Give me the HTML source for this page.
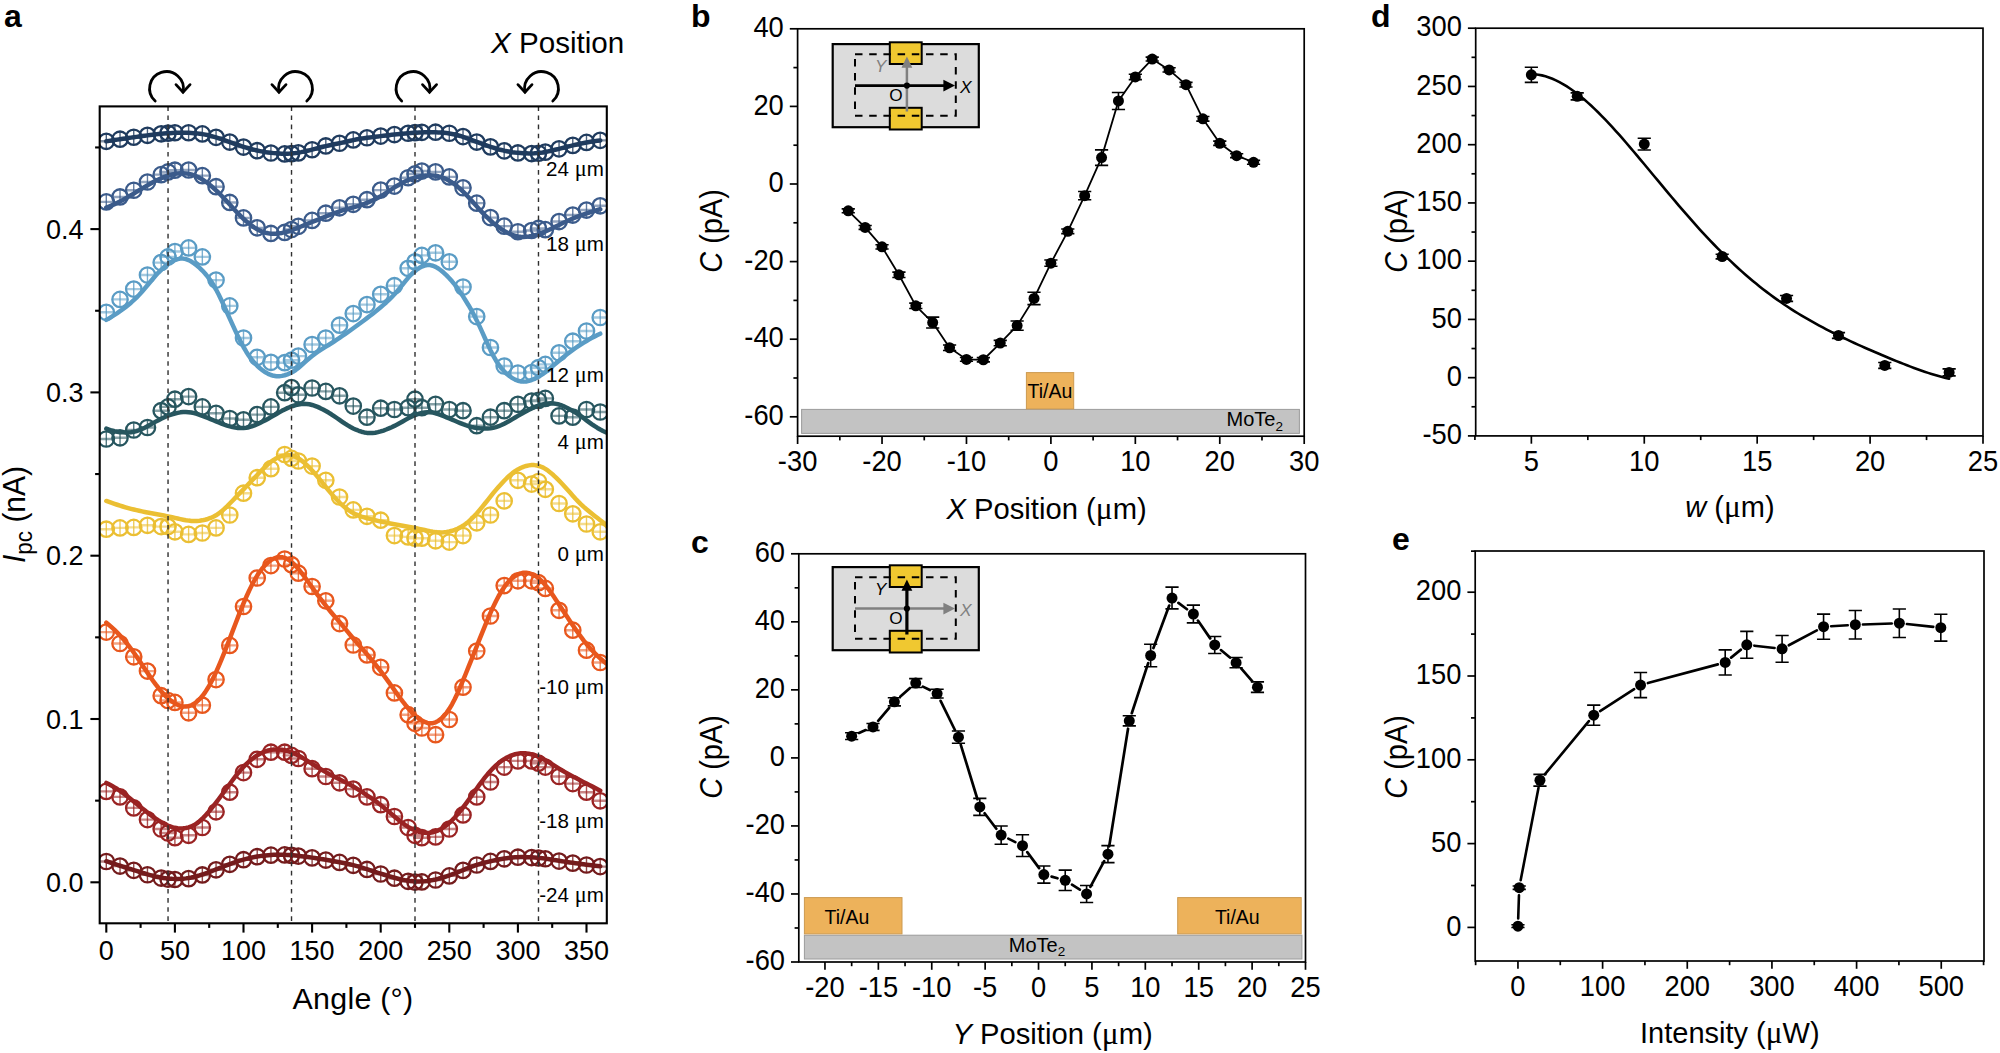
<!DOCTYPE html>
<html lang="en">
<head>
<meta charset="utf-8">
<title>Figure</title>
<style>html,body{margin:0;padding:0;background:#fff;}body{width:2000px;height:1053px;overflow:hidden;}</style>
</head>
<body>
<svg width="2000" height="1053" viewBox="0 0 2000 1053" font-family='"Liberation Sans", sans-serif' style="display:block">
<rect width="2000" height="1053" fill="#fff"/>
<text x="4" y="27" font-size="32" font-weight="bold">a</text>
<clipPath id="ca"><rect x="99.7" y="106.4" width="507.1" height="816.9"/></clipPath>
<g clip-path="url(#ca)">
<g stroke="#741b1c" fill="none">
<path d="M106.3 853.8v15.4M120.02 858.37v15.4M133.74 862.65v15.4M147.46 867.05v15.4M161.18 870.33v15.4M168.04 871.39v15.4M174.9 871.79v15.4M188.62 870.92v15.4M202.34 867.25v15.4M216.06 862.12v15.4M229.78 856.6v15.4M243.5 852.01v15.4M257.22 849.02v15.4M270.94 847.47v15.4M284.66 847.21v15.4M291.52 847.67v15.4M298.38 848.4v15.4M312.1 850.18v15.4M325.82 852.36v15.4M339.54 854.72v15.4M353.26 857.6v15.4M366.98 861.77v15.4M380.7 866.3v15.4M394.42 870.49v15.4M408.14 873.6v15.4M415 874.37v15.4M421.86 874.19v15.4M435.58 872.3v15.4M449.3 868.2v15.4M463.02 862.68v15.4M476.74 857.3v15.4M490.46 853.72v15.4M504.18 851.1v15.4M517.9 849.5v15.4M531.62 849.9v15.4M538.48 850.3v15.4M545.34 851.07v15.4M559.06 853.4v15.4M572.78 855.42v15.4M586.5 857.3v15.4M600.22 858.9v15.4" stroke-width="1.4" opacity=".8"/>
<path d="M98.6 861.5h15.4M112.32 866.07h15.4M126.04 870.35h15.4M139.76 874.75h15.4M153.48 878.03h15.4M160.34 879.09h15.4M167.2 879.49h15.4M180.92 878.62h15.4M194.64 874.95h15.4M208.36 869.82h15.4M222.08 864.3h15.4M235.8 859.71h15.4M249.52 856.72h15.4M263.24 855.17h15.4M276.96 854.91h15.4M283.82 855.37h15.4M290.68 856.1h15.4M304.4 857.88h15.4M318.12 860.06h15.4M331.84 862.42h15.4M345.56 865.3h15.4M359.28 869.47h15.4M373 874h15.4M386.72 878.19h15.4M400.44 881.3h15.4M407.3 882.07h15.4M414.16 881.89h15.4M427.88 880h15.4M441.6 875.9h15.4M455.32 870.38h15.4M469.04 865h15.4M482.76 861.42h15.4M496.48 858.8h15.4M510.2 857.2h15.4M523.92 857.6h15.4M530.78 858h15.4M537.64 858.77h15.4M551.36 861.1h15.4M565.08 863.12h15.4M578.8 865h15.4M592.52 866.6h15.4" stroke-width="2.4" opacity=".55"/>
<g stroke-width="2.3"><circle cx="106.3" cy="861.5" r="7.7"/><circle cx="120.02" cy="866.07" r="7.7"/><circle cx="133.74" cy="870.35" r="7.7"/><circle cx="147.46" cy="874.75" r="7.7"/><circle cx="161.18" cy="878.03" r="7.7"/><circle cx="168.04" cy="879.09" r="7.7"/><circle cx="174.9" cy="879.49" r="7.7"/><circle cx="188.62" cy="878.62" r="7.7"/><circle cx="202.34" cy="874.95" r="7.7"/><circle cx="216.06" cy="869.82" r="7.7"/><circle cx="229.78" cy="864.3" r="7.7"/><circle cx="243.5" cy="859.71" r="7.7"/><circle cx="257.22" cy="856.72" r="7.7"/><circle cx="270.94" cy="855.17" r="7.7"/><circle cx="284.66" cy="854.91" r="7.7"/><circle cx="291.52" cy="855.37" r="7.7"/><circle cx="298.38" cy="856.1" r="7.7"/><circle cx="312.1" cy="857.88" r="7.7"/><circle cx="325.82" cy="860.06" r="7.7"/><circle cx="339.54" cy="862.42" r="7.7"/><circle cx="353.26" cy="865.3" r="7.7"/><circle cx="366.98" cy="869.47" r="7.7"/><circle cx="380.7" cy="874" r="7.7"/><circle cx="394.42" cy="878.19" r="7.7"/><circle cx="408.14" cy="881.3" r="7.7"/><circle cx="415" cy="882.07" r="7.7"/><circle cx="421.86" cy="881.89" r="7.7"/><circle cx="435.58" cy="880" r="7.7"/><circle cx="449.3" cy="875.9" r="7.7"/><circle cx="463.02" cy="870.38" r="7.7"/><circle cx="476.74" cy="865" r="7.7"/><circle cx="490.46" cy="861.42" r="7.7"/><circle cx="504.18" cy="858.8" r="7.7"/><circle cx="517.9" cy="857.2" r="7.7"/><circle cx="531.62" cy="857.6" r="7.7"/><circle cx="538.48" cy="858" r="7.7"/><circle cx="545.34" cy="858.77" r="7.7"/><circle cx="559.06" cy="861.1" r="7.7"/><circle cx="572.78" cy="863.12" r="7.7"/><circle cx="586.5" cy="865" r="7.7"/><circle cx="600.22" cy="866.6" r="7.7"/></g>
</g>
<polyline points="106.3,861.19 109.04,862.12 111.79,863.03 114.53,863.95 117.28,864.85 120.02,865.74 122.76,866.62 125.51,867.49 128.25,868.35 131,869.22 133.74,870.08 136.48,870.94 139.23,871.81 141.97,872.67 144.72,873.52 147.46,874.33 150.2,875.11 152.95,875.83 155.69,876.49 158.44,877.07 161.18,877.59 163.92,878.03 166.67,878.39 169.41,878.67 172.16,878.85 174.9,878.93 177.64,878.92 180.39,878.82 183.13,878.64 185.88,878.37 188.62,878 191.36,877.53 194.11,876.94 196.85,876.22 199.6,875.41 202.34,874.51 205.08,873.54 207.83,872.54 210.57,871.52 213.32,870.5 216.06,869.46 218.8,868.41 221.55,867.34 224.29,866.25 227.04,865.17 229.78,864.09 232.52,863.05 235.27,862.07 238.01,861.16 240.76,860.32 243.5,859.56 246.24,858.86 248.99,858.22 251.73,857.62 254.48,857.06 257.22,856.56 259.96,856.12 262.71,855.73 265.45,855.42 268.2,855.18 270.94,854.99 273.68,854.86 276.43,854.78 279.17,854.73 281.92,854.74 284.66,854.8 287.4,854.91 290.15,855.08 292.89,855.3 295.64,855.56 298.38,855.84 301.12,856.16 303.87,856.49 306.61,856.85 309.36,857.22 312.1,857.62 314.84,858.03 317.59,858.45 320.33,858.88 323.08,859.32 325.82,859.77 328.56,860.23 331.31,860.69 334.05,861.17 336.8,861.66 339.54,862.17 342.28,862.7 345.03,863.26 347.77,863.85 350.52,864.47 353.26,865.14 356,865.86 358.75,866.63 361.49,867.46 364.24,868.32 366.98,869.21 369.72,870.12 372.47,871.02 375.21,871.92 377.96,872.8 380.7,873.67 383.44,874.52 386.19,875.36 388.93,876.19 391.68,877 394.42,877.78 397.16,878.52 399.91,879.2 402.65,879.81 405.4,880.34 408.14,880.78 410.88,881.11 413.63,881.34 416.37,881.46 419.12,881.47 421.86,881.37 424.6,881.18 427.35,880.89 430.09,880.5 432.84,880.02 435.58,879.45 438.32,878.78 441.07,878.04 443.81,877.24 446.56,876.37 449.3,875.46 452.04,874.48 454.79,873.45 457.53,872.36 460.28,871.24 463.02,870.09 465.76,868.95 468.51,867.85 471.25,866.79 474,865.81 476.74,864.9 479.48,864.06 482.23,863.28 484.97,862.55 487.72,861.86 490.46,861.22 493.2,860.61 495.95,860.04 498.69,859.51 501.44,859.02 504.18,858.57 506.92,858.16 509.67,857.8 512.41,857.5 515.16,857.28 517.9,857.14 520.64,857.08 523.39,857.08 526.13,857.14 528.88,857.23 531.62,857.36 534.36,857.52 537.11,857.72 539.85,857.97 542.6,858.26 545.34,858.61 548.08,859 550.83,859.43 553.57,859.87 556.32,860.32 559.06,860.75 561.8,861.18 564.55,861.6 567.29,862.01 570.04,862.41 572.78,862.8 575.52,863.19 578.27,863.58 581.01,863.95 583.76,864.32 586.5,864.67 589.24,865.01 591.99,865.34 594.73,865.66 597.48,865.98 600.22,866.29" fill="none" stroke="#741b1c" stroke-width="4.5" stroke-linejoin="round" stroke-linecap="round"/>
<g stroke="#9a2323" fill="none">
<path d="M106.3 783.7v15.4M120.02 789.2v15.4M133.74 800.2v15.4M147.46 811.9v15.4M161.18 821.3v15.4M168.04 825.3v15.4M174.9 830v15.4M188.62 827.6v15.4M202.34 819.8v15.4M216.06 804.1v15.4M229.78 784.5v15.4M243.5 764.9v15.4M257.22 751.6v15.4M270.94 744.5v15.4M284.66 744.5v15.4M291.52 747.7v15.4M298.38 750.8v15.4M312.1 761v15.4M325.82 768.8v15.4M339.54 775.1v15.4M353.26 781.4v15.4M366.98 789.2v15.4M380.7 797v15.4M394.42 808.8v15.4M408.14 819.8v15.4M415 827.6v15.4M421.86 830v15.4M435.58 829.2v15.4M449.3 821.3v15.4M463.02 807.2v15.4M476.74 789.2v15.4M490.46 774.3v15.4M504.18 759.4v15.4M517.9 753.2v15.4M531.62 753.2v15.4M538.48 755.5v15.4M545.34 759.4v15.4M559.06 768.8v15.4M572.78 775.9v15.4M586.5 784.5v15.4M600.22 793.1v15.4" stroke-width="1.4" opacity=".8"/>
<path d="M98.6 791.4h15.4M112.32 796.9h15.4M126.04 807.9h15.4M139.76 819.6h15.4M153.48 829h15.4M160.34 833h15.4M167.2 837.7h15.4M180.92 835.3h15.4M194.64 827.5h15.4M208.36 811.8h15.4M222.08 792.2h15.4M235.8 772.6h15.4M249.52 759.3h15.4M263.24 752.2h15.4M276.96 752.2h15.4M283.82 755.4h15.4M290.68 758.5h15.4M304.4 768.7h15.4M318.12 776.5h15.4M331.84 782.8h15.4M345.56 789.1h15.4M359.28 796.9h15.4M373 804.7h15.4M386.72 816.5h15.4M400.44 827.5h15.4M407.3 835.3h15.4M414.16 837.7h15.4M427.88 836.9h15.4M441.6 829h15.4M455.32 814.9h15.4M469.04 796.9h15.4M482.76 782h15.4M496.48 767.1h15.4M510.2 760.9h15.4M523.92 760.9h15.4M530.78 763.2h15.4M537.64 767.1h15.4M551.36 776.5h15.4M565.08 783.6h15.4M578.8 792.2h15.4M592.52 800.8h15.4" stroke-width="2.4" opacity=".55"/>
<g stroke-width="2.3"><circle cx="106.3" cy="791.4" r="7.7"/><circle cx="120.02" cy="796.9" r="7.7"/><circle cx="133.74" cy="807.9" r="7.7"/><circle cx="147.46" cy="819.6" r="7.7"/><circle cx="161.18" cy="829" r="7.7"/><circle cx="168.04" cy="833" r="7.7"/><circle cx="174.9" cy="837.7" r="7.7"/><circle cx="188.62" cy="835.3" r="7.7"/><circle cx="202.34" cy="827.5" r="7.7"/><circle cx="216.06" cy="811.8" r="7.7"/><circle cx="229.78" cy="792.2" r="7.7"/><circle cx="243.5" cy="772.6" r="7.7"/><circle cx="257.22" cy="759.3" r="7.7"/><circle cx="270.94" cy="752.2" r="7.7"/><circle cx="284.66" cy="752.2" r="7.7"/><circle cx="291.52" cy="755.4" r="7.7"/><circle cx="298.38" cy="758.5" r="7.7"/><circle cx="312.1" cy="768.7" r="7.7"/><circle cx="325.82" cy="776.5" r="7.7"/><circle cx="339.54" cy="782.8" r="7.7"/><circle cx="353.26" cy="789.1" r="7.7"/><circle cx="366.98" cy="796.9" r="7.7"/><circle cx="380.7" cy="804.7" r="7.7"/><circle cx="394.42" cy="816.5" r="7.7"/><circle cx="408.14" cy="827.5" r="7.7"/><circle cx="415" cy="835.3" r="7.7"/><circle cx="421.86" cy="837.7" r="7.7"/><circle cx="435.58" cy="836.9" r="7.7"/><circle cx="449.3" cy="829" r="7.7"/><circle cx="463.02" cy="814.9" r="7.7"/><circle cx="476.74" cy="796.9" r="7.7"/><circle cx="490.46" cy="782" r="7.7"/><circle cx="504.18" cy="767.1" r="7.7"/><circle cx="517.9" cy="760.9" r="7.7"/><circle cx="531.62" cy="760.9" r="7.7"/><circle cx="538.48" cy="763.2" r="7.7"/><circle cx="545.34" cy="767.1" r="7.7"/><circle cx="559.06" cy="776.5" r="7.7"/><circle cx="572.78" cy="783.6" r="7.7"/><circle cx="586.5" cy="792.2" r="7.7"/><circle cx="600.22" cy="800.8" r="7.7"/></g>
</g>
<polyline points="106.3,782.91 109.04,784.3 111.79,785.77 114.53,787.34 117.28,789.03 120.02,790.85 122.76,792.81 125.51,794.87 128.25,797.02 131,799.22 133.74,801.45 136.48,803.69 139.23,805.92 141.97,808.14 144.72,810.33 147.46,812.49 150.2,814.6 152.95,816.65 155.69,818.61 158.44,820.45 161.18,822.16 163.92,823.72 166.67,825.09 169.41,826.24 172.16,827.16 174.9,827.82 177.64,828.24 180.39,828.41 183.13,828.34 185.88,828.01 188.62,827.39 191.36,826.44 194.11,825.12 196.85,823.39 199.6,821.25 202.34,818.74 205.08,815.92 207.83,812.85 210.57,809.59 213.32,806.17 216.06,802.63 218.8,798.99 221.55,795.27 224.29,791.5 227.04,787.72 229.78,783.96 232.52,780.25 235.27,776.64 238.01,773.18 240.76,769.92 243.5,766.87 246.24,764.08 248.99,761.53 251.73,759.23 254.48,757.18 257.22,755.37 259.96,753.79 262.71,752.45 265.45,751.34 268.2,750.49 270.94,749.88 273.68,749.51 276.43,749.38 279.17,749.47 281.92,749.78 284.66,750.27 287.4,750.95 290.15,751.81 292.89,752.85 295.64,754.07 298.38,755.46 301.12,756.99 303.87,758.62 306.61,760.32 309.36,762.05 312.1,763.79 314.84,765.52 317.59,767.24 320.33,768.92 323.08,770.56 325.82,772.14 328.56,773.67 331.31,775.14 334.05,776.57 336.8,777.96 339.54,779.33 342.28,780.7 345.03,782.07 347.77,783.48 350.52,784.95 353.26,786.49 356,788.12 358.75,789.83 361.49,791.61 364.24,793.43 366.98,795.27 369.72,797.13 372.47,799.02 375.21,800.95 377.96,802.94 380.7,805.02 383.44,807.19 386.19,809.45 388.93,811.76 391.68,814.11 394.42,816.47 397.16,818.79 399.91,821.04 402.65,823.16 405.4,825.13 408.14,826.89 410.88,828.44 413.63,829.77 416.37,830.88 419.12,831.76 421.86,832.4 424.6,832.78 427.35,832.89 430.09,832.71 432.84,832.22 435.58,831.42 438.32,830.31 441.07,828.89 443.81,827.17 446.56,825.16 449.3,822.86 452.04,820.29 454.79,817.44 457.53,814.34 460.28,811.02 463.02,807.5 465.76,803.84 468.51,800.06 471.25,796.2 474,792.32 476.74,788.46 479.48,784.66 482.23,780.97 484.97,777.43 487.72,774.08 490.46,770.96 493.2,768.07 495.95,765.44 498.69,763.08 501.44,760.97 504.18,759.13 506.92,757.53 509.67,756.19 512.41,755.09 515.16,754.24 517.9,753.65 520.64,753.31 523.39,753.21 526.13,753.36 528.88,753.75 531.62,754.35 534.36,755.17 537.11,756.19 539.85,757.39 542.6,758.77 545.34,760.28 548.08,761.89 550.83,763.55 553.57,765.24 556.32,766.93 559.06,768.59 561.8,770.23 564.55,771.83 567.29,773.39 570.04,774.92 572.78,776.42 575.52,777.89 578.27,779.34 581.01,780.77 583.76,782.18 586.5,783.58 589.24,784.98 591.99,786.38 594.73,787.81 597.48,789.27 600.22,790.77" fill="none" stroke="#9a2323" stroke-width="4.5" stroke-linejoin="round" stroke-linecap="round"/>
<g stroke="#e8571d" fill="none">
<path d="M106.3 624.4v15.4M120.02 635.8v15.4M133.74 649.1v15.4M147.46 663.4v15.4M161.18 688v15.4M168.04 692.8v15.4M174.9 694.7v15.4M188.62 705.1v15.4M202.34 697.5v15.4M216.06 671.9v15.4M229.78 637.7v15.4M243.5 598.8v15.4M257.22 570.3v15.4M270.94 557.9v15.4M284.66 551.3v15.4M291.52 557v15.4M298.38 565.5v15.4M312.1 578.8v15.4M325.82 593.1v15.4M339.54 615.9v15.4M353.26 637.3v15.4M366.98 647.2v15.4M380.7 659.6v15.4M394.42 685.2v15.4M408.14 707v15.4M415 715.6v15.4M421.86 720.3v15.4M435.58 727v15.4M449.3 711.8v15.4M463.02 679.5v15.4M476.74 643.4v15.4M490.46 608.3v15.4M504.18 577.9v15.4M517.9 573.1v15.4M531.62 573.1v15.4M538.48 575v15.4M545.34 580.7v15.4M559.06 602.6v15.4M572.78 622.5v15.4M586.5 642.5v15.4M600.22 654.8v15.4" stroke-width="1.4" opacity=".8"/>
<path d="M98.6 632.1h15.4M112.32 643.5h15.4M126.04 656.8h15.4M139.76 671.1h15.4M153.48 695.7h15.4M160.34 700.5h15.4M167.2 702.4h15.4M180.92 712.8h15.4M194.64 705.2h15.4M208.36 679.6h15.4M222.08 645.4h15.4M235.8 606.5h15.4M249.52 578h15.4M263.24 565.6h15.4M276.96 559h15.4M283.82 564.7h15.4M290.68 573.2h15.4M304.4 586.5h15.4M318.12 600.8h15.4M331.84 623.6h15.4M345.56 645h15.4M359.28 654.9h15.4M373 667.3h15.4M386.72 692.9h15.4M400.44 714.7h15.4M407.3 723.3h15.4M414.16 728h15.4M427.88 734.7h15.4M441.6 719.5h15.4M455.32 687.2h15.4M469.04 651.1h15.4M482.76 616h15.4M496.48 585.6h15.4M510.2 580.8h15.4M523.92 580.8h15.4M530.78 582.7h15.4M537.64 588.4h15.4M551.36 610.3h15.4M565.08 630.2h15.4M578.8 650.2h15.4M592.52 662.5h15.4" stroke-width="2.4" opacity=".55"/>
<g stroke-width="2.3"><circle cx="106.3" cy="632.1" r="7.7"/><circle cx="120.02" cy="643.5" r="7.7"/><circle cx="133.74" cy="656.8" r="7.7"/><circle cx="147.46" cy="671.1" r="7.7"/><circle cx="161.18" cy="695.7" r="7.7"/><circle cx="168.04" cy="700.5" r="7.7"/><circle cx="174.9" cy="702.4" r="7.7"/><circle cx="188.62" cy="712.8" r="7.7"/><circle cx="202.34" cy="705.2" r="7.7"/><circle cx="216.06" cy="679.6" r="7.7"/><circle cx="229.78" cy="645.4" r="7.7"/><circle cx="243.5" cy="606.5" r="7.7"/><circle cx="257.22" cy="578" r="7.7"/><circle cx="270.94" cy="565.6" r="7.7"/><circle cx="284.66" cy="559" r="7.7"/><circle cx="291.52" cy="564.7" r="7.7"/><circle cx="298.38" cy="573.2" r="7.7"/><circle cx="312.1" cy="586.5" r="7.7"/><circle cx="325.82" cy="600.8" r="7.7"/><circle cx="339.54" cy="623.6" r="7.7"/><circle cx="353.26" cy="645" r="7.7"/><circle cx="366.98" cy="654.9" r="7.7"/><circle cx="380.7" cy="667.3" r="7.7"/><circle cx="394.42" cy="692.9" r="7.7"/><circle cx="408.14" cy="714.7" r="7.7"/><circle cx="415" cy="723.3" r="7.7"/><circle cx="421.86" cy="728" r="7.7"/><circle cx="435.58" cy="734.7" r="7.7"/><circle cx="449.3" cy="719.5" r="7.7"/><circle cx="463.02" cy="687.2" r="7.7"/><circle cx="476.74" cy="651.1" r="7.7"/><circle cx="490.46" cy="616" r="7.7"/><circle cx="504.18" cy="585.6" r="7.7"/><circle cx="517.9" cy="580.8" r="7.7"/><circle cx="531.62" cy="580.8" r="7.7"/><circle cx="538.48" cy="582.7" r="7.7"/><circle cx="545.34" cy="588.4" r="7.7"/><circle cx="559.06" cy="610.3" r="7.7"/><circle cx="572.78" cy="630.2" r="7.7"/><circle cx="586.5" cy="650.2" r="7.7"/><circle cx="600.22" cy="662.5" r="7.7"/></g>
</g>
<polyline points="106.3,622.75 109.04,625.03 111.79,627.42 114.53,629.95 117.28,632.63 120.02,635.49 122.76,638.53 125.51,641.77 128.25,645.18 131,648.78 133.74,652.55 136.48,656.46 139.23,660.49 141.97,664.59 144.72,668.71 147.46,672.8 150.2,676.81 152.95,680.7 155.69,684.43 158.44,687.96 161.18,691.26 163.92,694.3 166.67,697.06 169.41,699.52 172.16,701.64 174.9,703.41 177.64,704.82 180.39,705.85 183.13,706.46 185.88,706.6 188.62,706.2 191.36,705.26 194.11,703.76 196.85,701.72 199.6,699.16 202.34,696.05 205.08,692.36 207.83,688.09 210.57,683.25 213.32,677.9 216.06,672.11 218.8,665.94 221.55,659.44 224.29,652.67 227.04,645.7 229.78,638.59 232.52,631.41 235.27,624.22 238.01,617.12 240.76,610.17 243.5,603.46 246.24,597.05 248.99,591 251.73,585.38 254.48,580.24 257.22,575.61 259.96,571.51 262.71,567.92 265.45,564.84 268.2,562.26 270.94,560.16 273.68,558.58 276.43,557.52 279.17,557.03 281.92,557.14 284.66,557.84 287.4,559.1 290.15,560.89 292.89,563.15 295.64,565.84 298.38,568.92 301.12,572.32 303.87,575.95 306.61,579.71 309.36,583.52 312.1,587.33 314.84,591.1 317.59,594.83 320.33,598.52 323.08,602.15 325.82,605.69 328.56,609.14 331.31,612.47 334.05,615.71 336.8,618.88 339.54,622.07 342.28,625.29 345.03,628.58 347.77,631.9 350.52,635.21 353.26,638.48 356,641.68 358.75,644.83 361.49,647.94 364.24,651.07 366.98,654.23 369.72,657.47 372.47,660.78 375.21,664.18 377.96,667.66 380.7,671.23 383.44,674.88 386.19,678.61 388.93,682.4 391.68,686.23 394.42,690.09 397.16,693.95 399.91,697.75 402.65,701.45 405.4,704.98 408.14,708.29 410.88,711.34 413.63,714.11 416.37,716.59 419.12,718.74 421.86,720.55 424.6,721.97 427.35,722.92 430.09,723.35 432.84,723.17 435.58,722.35 438.32,720.88 441.07,718.79 443.81,716.11 446.56,712.83 449.3,708.91 452.04,704.32 454.79,699.06 457.53,693.23 460.28,686.97 463.02,680.44 465.76,673.74 468.51,666.96 471.25,660.12 474,653.23 476.74,646.32 479.48,639.41 482.23,632.55 484.97,625.8 487.72,619.23 490.46,612.9 493.2,606.87 495.95,601.21 498.69,596 501.44,591.29 504.18,587.14 506.92,583.55 509.67,580.5 512.41,577.97 515.16,575.93 517.9,574.39 520.64,573.34 523.39,572.79 526.13,572.74 528.88,573.17 531.62,574.06 534.36,575.38 537.11,577.13 539.85,579.31 542.6,581.95 545.34,585.03 548.08,588.51 550.83,592.3 553.57,596.3 556.32,600.41 559.06,604.57 561.8,608.74 564.55,612.92 567.29,617.09 570.04,621.22 572.78,625.3 575.52,629.29 578.27,633.18 581.01,636.94 583.76,640.54 586.5,643.95 589.24,647.18 591.99,650.22 594.73,653.08 597.48,655.8 600.22,658.36 602.96,660.8 605.71,663.14 608.45,665.38" fill="none" stroke="#e8571d" stroke-width="4.5" stroke-linejoin="round" stroke-linecap="round"/>
<g stroke="#ebbf33" fill="none">
<path d="M106.3 521.5v15.4M120.02 520.2v15.4M133.74 519.7v15.4M147.46 517.6v15.4M161.18 518.9v15.4M168.04 518.9v15.4M174.9 524.1v15.4M188.62 526.7v15.4M202.34 525.3v15.4M216.06 520.2v15.4M229.78 507.3v15.4M243.5 485.5v15.4M257.22 470v15.4M270.94 461v15.4M284.66 446.8v15.4M291.52 450.7v15.4M298.38 453.3v15.4M312.1 458.4v15.4M325.82 472.6v15.4M339.54 489.3v15.4M353.26 502.2v15.4M366.98 508.6v15.4M380.7 512.5v15.4M394.42 527.9v15.4M408.14 529.2v15.4M415 530.5v15.4M421.86 530.5v15.4M435.58 533.1v15.4M449.3 534.4v15.4M463.02 527.9v15.4M476.74 515.1v15.4M490.46 507.3v15.4M504.18 493.2v15.4M517.9 472.6v15.4M531.62 476.4v15.4M538.48 473.8v15.4M545.34 481.6v15.4M559.06 495.8v15.4M572.78 506.1v15.4M586.5 516.3v15.4M600.22 524.1v15.4" stroke-width="1.4" opacity=".8"/>
<path d="M98.6 529.2h15.4M112.32 527.9h15.4M126.04 527.4h15.4M139.76 525.3h15.4M153.48 526.6h15.4M160.34 526.6h15.4M167.2 531.8h15.4M180.92 534.4h15.4M194.64 533h15.4M208.36 527.9h15.4M222.08 515h15.4M235.8 493.2h15.4M249.52 477.7h15.4M263.24 468.7h15.4M276.96 454.5h15.4M283.82 458.4h15.4M290.68 461h15.4M304.4 466.1h15.4M318.12 480.3h15.4M331.84 497h15.4M345.56 509.9h15.4M359.28 516.3h15.4M373 520.2h15.4M386.72 535.6h15.4M400.44 536.9h15.4M407.3 538.2h15.4M414.16 538.2h15.4M427.88 540.8h15.4M441.6 542.1h15.4M455.32 535.6h15.4M469.04 522.8h15.4M482.76 515h15.4M496.48 500.9h15.4M510.2 480.3h15.4M523.92 484.1h15.4M530.78 481.5h15.4M537.64 489.3h15.4M551.36 503.5h15.4M565.08 513.8h15.4M578.8 524h15.4M592.52 531.8h15.4" stroke-width="2.4" opacity=".55"/>
<g stroke-width="2.3"><circle cx="106.3" cy="529.2" r="7.7"/><circle cx="120.02" cy="527.9" r="7.7"/><circle cx="133.74" cy="527.4" r="7.7"/><circle cx="147.46" cy="525.3" r="7.7"/><circle cx="161.18" cy="526.6" r="7.7"/><circle cx="168.04" cy="526.6" r="7.7"/><circle cx="174.9" cy="531.8" r="7.7"/><circle cx="188.62" cy="534.4" r="7.7"/><circle cx="202.34" cy="533" r="7.7"/><circle cx="216.06" cy="527.9" r="7.7"/><circle cx="229.78" cy="515" r="7.7"/><circle cx="243.5" cy="493.2" r="7.7"/><circle cx="257.22" cy="477.7" r="7.7"/><circle cx="270.94" cy="468.7" r="7.7"/><circle cx="284.66" cy="454.5" r="7.7"/><circle cx="291.52" cy="458.4" r="7.7"/><circle cx="298.38" cy="461" r="7.7"/><circle cx="312.1" cy="466.1" r="7.7"/><circle cx="325.82" cy="480.3" r="7.7"/><circle cx="339.54" cy="497" r="7.7"/><circle cx="353.26" cy="509.9" r="7.7"/><circle cx="366.98" cy="516.3" r="7.7"/><circle cx="380.7" cy="520.2" r="7.7"/><circle cx="394.42" cy="535.6" r="7.7"/><circle cx="408.14" cy="536.9" r="7.7"/><circle cx="415" cy="538.2" r="7.7"/><circle cx="421.86" cy="538.2" r="7.7"/><circle cx="435.58" cy="540.8" r="7.7"/><circle cx="449.3" cy="542.1" r="7.7"/><circle cx="463.02" cy="535.6" r="7.7"/><circle cx="476.74" cy="522.8" r="7.7"/><circle cx="490.46" cy="515" r="7.7"/><circle cx="504.18" cy="500.9" r="7.7"/><circle cx="517.9" cy="480.3" r="7.7"/><circle cx="531.62" cy="484.1" r="7.7"/><circle cx="538.48" cy="481.5" r="7.7"/><circle cx="545.34" cy="489.3" r="7.7"/><circle cx="559.06" cy="503.5" r="7.7"/><circle cx="572.78" cy="513.8" r="7.7"/><circle cx="586.5" cy="524" r="7.7"/><circle cx="600.22" cy="531.8" r="7.7"/></g>
</g>
<polyline points="106.3,500.98 109.04,501.95 111.79,502.91 114.53,503.85 117.28,504.76 120.02,505.64 122.76,506.49 125.51,507.3 128.25,508.07 131,508.8 133.74,509.5 136.48,510.16 139.23,510.78 141.97,511.37 144.72,511.94 147.46,512.48 150.2,513.01 152.95,513.52 155.69,514.03 158.44,514.54 161.18,515.05 163.92,515.57 166.67,516.12 169.41,516.68 172.16,517.28 174.9,517.9 177.64,518.52 180.39,519.13 183.13,519.7 185.88,520.21 188.62,520.61 191.36,520.89 194.11,521.01 196.85,520.96 199.6,520.74 202.34,520.33 205.08,519.73 207.83,518.96 210.57,517.99 213.32,516.78 216.06,515.29 218.8,513.48 221.55,511.34 224.29,508.91 227.04,506.29 229.78,503.53 232.52,500.72 235.27,497.88 238.01,495.03 240.76,492.18 243.5,489.32 246.24,486.47 248.99,483.61 251.73,480.74 254.48,477.85 257.22,474.96 259.96,472.07 262.71,469.24 265.45,466.54 268.2,464.03 270.94,461.79 273.68,459.84 276.43,458.21 279.17,456.92 281.92,455.98 284.66,455.4 287.4,455.18 290.15,455.34 292.89,455.9 295.64,456.89 298.38,458.32 301.12,460.17 303.87,462.37 306.61,464.85 309.36,467.55 312.1,470.44 314.84,473.5 317.59,476.73 320.33,480.1 323.08,483.56 325.82,487.02 328.56,490.41 331.31,493.67 334.05,496.78 336.8,499.73 339.54,502.51 342.28,505.11 345.03,507.5 347.77,509.64 350.52,511.5 353.26,513.1 356,514.45 358.75,515.59 361.49,516.58 364.24,517.44 366.98,518.22 369.72,518.94 372.47,519.61 375.21,520.25 377.96,520.87 380.7,521.47 383.44,522.05 386.19,522.62 388.93,523.17 391.68,523.7 394.42,524.22 397.16,524.72 399.91,525.22 402.65,525.71 405.4,526.2 408.14,526.69 410.88,527.2 413.63,527.72 416.37,528.28 419.12,528.86 421.86,529.46 424.6,530.07 427.35,530.67 430.09,531.23 432.84,531.72 435.58,532.11 438.32,532.37 441.07,532.46 443.81,532.36 446.56,532.05 449.3,531.53 452.04,530.79 454.79,529.86 457.53,528.72 460.28,527.37 463.02,525.76 465.76,523.85 468.51,521.65 471.25,519.14 474,516.38 476.74,513.4 479.48,510.24 482.23,506.93 484.97,503.52 487.72,500.05 490.46,496.6 493.2,493.21 495.95,489.91 498.69,486.73 501.44,483.68 504.18,480.75 506.92,478 509.67,475.45 512.41,473.15 515.16,471.14 517.9,469.42 520.64,467.99 523.39,466.84 526.13,465.97 528.88,465.38 531.62,465.09 534.36,465.12 537.11,465.48 539.85,466.21 542.6,467.34 545.34,468.85 548.08,470.73 550.83,472.9 553.57,475.31 556.32,477.89 559.06,480.61 561.8,483.45 564.55,486.42 567.29,489.49 570.04,492.6 572.78,495.7 575.52,498.71 578.27,501.58 581.01,504.29 583.76,506.84 586.5,509.24 589.24,511.53 591.99,513.75 594.73,515.92 597.48,518.07 600.22,520.21 602.96,522.34 605.71,524.46 608.45,526.59" fill="none" stroke="#ebbf33" stroke-width="4.5" stroke-linejoin="round" stroke-linecap="round"/>
<g stroke="#27565f" fill="none">
<path d="M106.3 431.3v15.4M120.02 430.1v15.4M133.74 422.3v15.4M147.46 419.8v15.4M161.18 403v15.4M168.04 399.2v15.4M174.9 391.5v15.4M188.62 388.9v15.4M202.34 399.2v15.4M216.06 405.6v15.4M229.78 410.8v15.4M243.5 412.1v15.4M257.22 406.9v15.4M270.94 399.2v15.4M284.66 385v15.4M291.52 379.9v15.4M298.38 387.1v15.4M312.1 380.3v15.4M325.82 383.7v15.4M339.54 388.1v15.4M353.26 398.4v15.4M366.98 409.5v15.4M380.7 400.5v15.4M394.42 401.8v15.4M408.14 400v15.4M415 391.5v15.4M421.86 400v15.4M435.58 396.6v15.4M449.3 401.8v15.4M463.02 403v15.4M476.74 418v15.4M490.46 409.5v15.4M504.18 403v15.4M517.9 396.6v15.4M531.62 393.3v15.4M538.48 392.7v15.4M545.34 390.7v15.4M559.06 408.2v15.4M572.78 409.5v15.4M586.5 401.8v15.4M600.22 404.3v15.4" stroke-width="1.4" opacity=".8"/>
<path d="M98.6 439h15.4M112.32 437.8h15.4M126.04 430h15.4M139.76 427.5h15.4M153.48 410.7h15.4M160.34 406.9h15.4M167.2 399.2h15.4M180.92 396.6h15.4M194.64 406.9h15.4M208.36 413.3h15.4M222.08 418.5h15.4M235.8 419.8h15.4M249.52 414.6h15.4M263.24 406.9h15.4M276.96 392.7h15.4M283.82 387.6h15.4M290.68 394.8h15.4M304.4 388h15.4M318.12 391.4h15.4M331.84 395.8h15.4M345.56 406.1h15.4M359.28 417.2h15.4M373 408.2h15.4M386.72 409.5h15.4M400.44 407.7h15.4M407.3 399.2h15.4M414.16 407.7h15.4M427.88 404.3h15.4M441.6 409.5h15.4M455.32 410.7h15.4M469.04 425.7h15.4M482.76 417.2h15.4M496.48 410.7h15.4M510.2 404.3h15.4M523.92 401h15.4M530.78 400.4h15.4M537.64 398.4h15.4M551.36 415.9h15.4M565.08 417.2h15.4M578.8 409.5h15.4M592.52 412h15.4" stroke-width="2.4" opacity=".55"/>
<g stroke-width="2.3"><circle cx="106.3" cy="439" r="7.7"/><circle cx="120.02" cy="437.8" r="7.7"/><circle cx="133.74" cy="430" r="7.7"/><circle cx="147.46" cy="427.5" r="7.7"/><circle cx="161.18" cy="410.7" r="7.7"/><circle cx="168.04" cy="406.9" r="7.7"/><circle cx="174.9" cy="399.2" r="7.7"/><circle cx="188.62" cy="396.6" r="7.7"/><circle cx="202.34" cy="406.9" r="7.7"/><circle cx="216.06" cy="413.3" r="7.7"/><circle cx="229.78" cy="418.5" r="7.7"/><circle cx="243.5" cy="419.8" r="7.7"/><circle cx="257.22" cy="414.6" r="7.7"/><circle cx="270.94" cy="406.9" r="7.7"/><circle cx="284.66" cy="392.7" r="7.7"/><circle cx="291.52" cy="387.6" r="7.7"/><circle cx="298.38" cy="394.8" r="7.7"/><circle cx="312.1" cy="388" r="7.7"/><circle cx="325.82" cy="391.4" r="7.7"/><circle cx="339.54" cy="395.8" r="7.7"/><circle cx="353.26" cy="406.1" r="7.7"/><circle cx="366.98" cy="417.2" r="7.7"/><circle cx="380.7" cy="408.2" r="7.7"/><circle cx="394.42" cy="409.5" r="7.7"/><circle cx="408.14" cy="407.7" r="7.7"/><circle cx="415" cy="399.2" r="7.7"/><circle cx="421.86" cy="407.7" r="7.7"/><circle cx="435.58" cy="404.3" r="7.7"/><circle cx="449.3" cy="409.5" r="7.7"/><circle cx="463.02" cy="410.7" r="7.7"/><circle cx="476.74" cy="425.7" r="7.7"/><circle cx="490.46" cy="417.2" r="7.7"/><circle cx="504.18" cy="410.7" r="7.7"/><circle cx="517.9" cy="404.3" r="7.7"/><circle cx="531.62" cy="401" r="7.7"/><circle cx="538.48" cy="400.4" r="7.7"/><circle cx="545.34" cy="398.4" r="7.7"/><circle cx="559.06" cy="415.9" r="7.7"/><circle cx="572.78" cy="417.2" r="7.7"/><circle cx="586.5" cy="409.5" r="7.7"/><circle cx="600.22" cy="412" r="7.7"/></g>
</g>
<polyline points="106.3,428.68 109.04,429.66 111.79,430.53 114.53,431.25 117.28,431.79 120.02,432.16 122.76,432.37 125.51,432.45 128.25,432.39 131,432.19 133.74,431.77 136.48,431.11 139.23,430.18 141.97,429.01 144.72,427.66 147.46,426.2 150.2,424.69 152.95,423.15 155.69,421.63 158.44,420.15 161.18,418.75 163.92,417.45 166.67,416.27 169.41,415.22 172.16,414.3 174.9,413.51 177.64,412.85 180.39,412.36 183.13,412.06 185.88,411.99 188.62,412.15 191.36,412.55 194.11,413.17 196.85,413.95 199.6,414.87 202.34,415.87 205.08,416.92 207.83,418.01 210.57,419.12 213.32,420.26 216.06,421.4 218.8,422.54 221.55,423.64 224.29,424.66 227.04,425.58 229.78,426.37 232.52,427.03 235.27,427.55 238.01,427.92 240.76,428.1 243.5,428.05 246.24,427.75 248.99,427.18 251.73,426.37 254.48,425.36 257.22,424.19 259.96,422.92 262.71,421.57 265.45,420.16 268.2,418.69 270.94,417.16 273.68,415.58 276.43,413.97 279.17,412.38 281.92,410.86 284.66,409.43 287.4,408.13 290.15,406.98 292.89,405.99 295.64,405.15 298.38,404.5 301.12,404.05 303.87,403.85 306.61,403.93 309.36,404.29 312.1,404.94 314.84,405.83 317.59,406.91 320.33,408.15 323.08,409.51 325.82,410.98 328.56,412.57 331.31,414.27 334.05,416.08 336.8,417.98 339.54,419.92 342.28,421.84 345.03,423.69 347.77,425.42 350.52,427 353.26,428.42 356,429.68 358.75,430.78 361.49,431.7 364.24,432.42 366.98,432.89 369.72,433.1 372.47,433.04 375.21,432.72 377.96,432.16 380.7,431.42 383.44,430.52 386.19,429.5 388.93,428.39 391.68,427.19 394.42,425.89 397.16,424.5 399.91,423.01 402.65,421.46 405.4,419.88 408.14,418.35 410.88,416.92 413.63,415.64 416.37,414.54 419.12,413.62 421.86,412.9 424.6,412.41 427.35,412.19 430.09,412.25 432.84,412.61 435.58,413.24 438.32,414.09 441.07,415.09 443.81,416.18 446.56,417.32 449.3,418.47 452.04,419.63 454.79,420.79 457.53,421.95 460.28,423.1 463.02,424.2 465.76,425.22 468.51,426.13 471.25,426.89 474,427.49 476.74,427.93 479.48,428.24 482.23,428.42 484.97,428.5 487.72,428.44 490.46,428.22 493.2,427.79 495.95,427.13 498.69,426.21 501.44,425.05 504.18,423.71 506.92,422.24 509.67,420.68 512.41,419.09 515.16,417.5 517.9,415.92 520.64,414.34 523.39,412.78 526.13,411.24 528.88,409.76 531.62,408.37 534.36,407.12 537.11,406.02 539.85,405.1 542.6,404.35 545.34,403.78 548.08,403.41 550.83,403.28 553.57,403.42 556.32,403.85 559.06,404.55 561.8,405.5 564.55,406.66 567.29,407.98 570.04,409.42 572.78,410.97 575.52,412.63 578.27,414.42 581.01,416.31 583.76,418.3 586.5,420.33 589.24,422.37 591.99,424.35 594.73,426.22 597.48,427.95 600.22,429.52 602.96,430.93 605.71,432.21 608.45,433.38" fill="none" stroke="#27565f" stroke-width="4.5" stroke-linejoin="round" stroke-linecap="round"/>
<g stroke="#5a9cc5" fill="none">
<path d="M106.3 304.6v15.4M120.02 291.7v15.4M133.74 281.4v15.4M147.46 267.3v15.4M161.18 254.9v15.4M168.04 249.2v15.4M174.9 243.8v15.4M188.62 240.2v15.4M202.34 249.2v15.4M216.06 272.4v15.4M229.78 298.2v15.4M243.5 330.3v15.4M257.22 349.6v15.4M270.94 354.6v15.4M284.66 355v15.4M291.52 352.5v15.4M298.38 348.4v15.4M312.1 336.8v15.4M325.82 330.3v15.4M339.54 317.5v15.4M353.26 305.9v15.4M366.98 296.9v15.4M380.7 286.6v15.4M394.42 278v15.4M408.14 260.6v15.4M415 254.1v15.4M421.86 247.7v15.4M435.58 245.1v15.4M449.3 254.1v15.4M463.02 279.3v15.4M476.74 308.9v15.4M490.46 339.8v15.4M504.18 358.3v15.4M517.9 365.3v15.4M531.62 364.8v15.4M538.48 360v15.4M545.34 356.7v15.4M559.06 345.1v15.4M572.78 333.5v15.4M586.5 323.3v15.4M600.22 309.8v15.4" stroke-width="1.4" opacity=".8"/>
<path d="M98.6 312.3h15.4M112.32 299.4h15.4M126.04 289.1h15.4M139.76 275h15.4M153.48 262.6h15.4M160.34 256.9h15.4M167.2 251.5h15.4M180.92 247.9h15.4M194.64 256.9h15.4M208.36 280.1h15.4M222.08 305.9h15.4M235.8 338h15.4M249.52 357.3h15.4M263.24 362.3h15.4M276.96 362.7h15.4M283.82 360.2h15.4M290.68 356.1h15.4M304.4 344.5h15.4M318.12 338h15.4M331.84 325.2h15.4M345.56 313.6h15.4M359.28 304.6h15.4M373 294.3h15.4M386.72 285.7h15.4M400.44 268.3h15.4M407.3 261.8h15.4M414.16 255.4h15.4M427.88 252.8h15.4M441.6 261.8h15.4M455.32 287h15.4M469.04 316.6h15.4M482.76 347.5h15.4M496.48 366h15.4M510.2 373h15.4M523.92 372.5h15.4M530.78 367.7h15.4M537.64 364.4h15.4M551.36 352.8h15.4M565.08 341.2h15.4M578.8 331h15.4M592.52 317.5h15.4" stroke-width="2.4" opacity=".55"/>
<g stroke-width="2.3"><circle cx="106.3" cy="312.3" r="7.7"/><circle cx="120.02" cy="299.4" r="7.7"/><circle cx="133.74" cy="289.1" r="7.7"/><circle cx="147.46" cy="275" r="7.7"/><circle cx="161.18" cy="262.6" r="7.7"/><circle cx="168.04" cy="256.9" r="7.7"/><circle cx="174.9" cy="251.5" r="7.7"/><circle cx="188.62" cy="247.9" r="7.7"/><circle cx="202.34" cy="256.9" r="7.7"/><circle cx="216.06" cy="280.1" r="7.7"/><circle cx="229.78" cy="305.9" r="7.7"/><circle cx="243.5" cy="338" r="7.7"/><circle cx="257.22" cy="357.3" r="7.7"/><circle cx="270.94" cy="362.3" r="7.7"/><circle cx="284.66" cy="362.7" r="7.7"/><circle cx="291.52" cy="360.2" r="7.7"/><circle cx="298.38" cy="356.1" r="7.7"/><circle cx="312.1" cy="344.5" r="7.7"/><circle cx="325.82" cy="338" r="7.7"/><circle cx="339.54" cy="325.2" r="7.7"/><circle cx="353.26" cy="313.6" r="7.7"/><circle cx="366.98" cy="304.6" r="7.7"/><circle cx="380.7" cy="294.3" r="7.7"/><circle cx="394.42" cy="285.7" r="7.7"/><circle cx="408.14" cy="268.3" r="7.7"/><circle cx="415" cy="261.8" r="7.7"/><circle cx="421.86" cy="255.4" r="7.7"/><circle cx="435.58" cy="252.8" r="7.7"/><circle cx="449.3" cy="261.8" r="7.7"/><circle cx="463.02" cy="287" r="7.7"/><circle cx="476.74" cy="316.6" r="7.7"/><circle cx="490.46" cy="347.5" r="7.7"/><circle cx="504.18" cy="366" r="7.7"/><circle cx="517.9" cy="373" r="7.7"/><circle cx="531.62" cy="372.5" r="7.7"/><circle cx="538.48" cy="367.7" r="7.7"/><circle cx="545.34" cy="364.4" r="7.7"/><circle cx="559.06" cy="352.8" r="7.7"/><circle cx="572.78" cy="341.2" r="7.7"/><circle cx="586.5" cy="331" r="7.7"/><circle cx="600.22" cy="317.5" r="7.7"/></g>
</g>
<polyline points="106.3,319.92 109.04,318.32 111.79,316.65 114.53,314.92 117.28,313.11 120.02,311.21 122.76,309.23 125.51,307.15 128.25,304.96 131,302.66 133.74,300.2 136.48,297.57 139.23,294.74 141.97,291.73 144.72,288.57 147.46,285.31 150.2,282.01 152.95,278.75 155.69,275.58 158.44,272.59 161.18,269.81 163.92,267.29 166.67,265.04 169.41,263.07 172.16,261.4 174.9,260.05 177.64,259.09 180.39,258.59 183.13,258.59 185.88,259.11 188.62,260.12 191.36,261.57 194.11,263.38 196.85,265.49 199.6,267.87 202.34,270.53 205.08,273.5 207.83,276.83 210.57,280.59 213.32,284.81 216.06,289.54 218.8,294.76 221.55,300.41 224.29,306.36 227.04,312.48 229.78,318.62 232.52,324.69 235.27,330.64 238.01,336.39 240.76,341.87 243.5,347 246.24,351.71 248.99,355.93 251.73,359.66 254.48,362.92 257.22,365.78 259.96,368.27 262.71,370.45 265.45,372.31 268.2,373.85 270.94,375.03 273.68,375.82 276.43,376.2 279.17,376.19 281.92,375.86 284.66,375.24 287.4,374.35 290.15,373.2 292.89,371.76 295.64,370 298.38,367.93 301.12,365.62 303.87,363.17 306.61,360.68 309.36,358.27 312.1,356.01 314.84,353.91 317.59,351.97 320.33,350.15 323.08,348.41 325.82,346.7 328.56,344.99 331.31,343.25 334.05,341.49 336.8,339.68 339.54,337.84 342.28,335.97 345.03,334.07 347.77,332.16 350.52,330.22 353.26,328.26 356,326.29 358.75,324.29 361.49,322.27 364.24,320.23 366.98,318.16 369.72,316.05 372.47,313.9 375.21,311.72 377.96,309.49 380.7,307.22 383.44,304.88 386.19,302.45 388.93,299.9 391.68,297.19 394.42,294.28 397.16,291.17 399.91,287.87 402.65,284.47 405.4,281.08 408.14,277.83 410.88,274.84 413.63,272.19 416.37,269.92 419.12,268.04 421.86,266.58 424.6,265.58 427.35,265.08 430.09,265.12 432.84,265.73 435.58,266.87 438.32,268.47 441.07,270.46 443.81,272.77 446.56,275.36 449.3,278.2 452.04,281.31 454.79,284.7 457.53,288.35 460.28,292.26 463.02,296.37 465.76,300.69 468.51,305.22 471.25,309.99 474,315.03 476.74,320.4 479.48,326.1 482.23,332.08 484.97,338.21 487.72,344.31 490.46,350.16 493.2,355.57 495.95,360.41 498.69,364.64 501.44,368.27 504.18,371.38 506.92,374.02 509.67,376.26 512.41,378.13 515.16,379.63 517.9,380.73 520.64,381.4 523.39,381.63 526.13,381.43 528.88,380.87 531.62,379.99 534.36,378.86 537.11,377.51 539.85,375.93 542.6,374.14 545.34,372.15 548.08,369.98 550.83,367.7 553.57,365.35 556.32,363.01 559.06,360.7 561.8,358.45 564.55,356.24 567.29,354.1 570.04,352 572.78,349.97 575.52,348.01 578.27,346.13 581.01,344.33 583.76,342.6 586.5,340.95 589.24,339.36 591.99,337.84 594.73,336.39 597.48,335 600.22,333.68" fill="none" stroke="#5a9cc5" stroke-width="4.5" stroke-linejoin="round" stroke-linecap="round"/>
<g stroke="#3b5b8b" fill="none">
<path d="M106.3 194.2v15.4M120.02 189.23v15.4M133.74 182.55v15.4M147.46 174.32v15.4M161.18 166.97v15.4M168.04 164.24v15.4M174.9 162.48v15.4M188.62 162.31v15.4M202.34 167.95v15.4M216.06 179.02v15.4M229.78 194.77v15.4M243.5 210.2v15.4M257.22 220.15v15.4M270.94 225.73v15.4M284.66 224.76v15.4M291.52 221.8v15.4M298.38 218.62v15.4M312.1 212.71v15.4M325.82 205.51v15.4M339.54 200.11v15.4M353.26 196.6v15.4M366.98 192.02v15.4M380.7 182.39v15.4M394.42 178.41v15.4M408.14 170.03v15.4M415 166.26v15.4M421.86 163.34v15.4M435.58 164.18v15.4M449.3 169.2v15.4M463.02 180.06v15.4M476.74 195.44v15.4M490.46 209.91v15.4M504.18 218.47v15.4M517.9 224.03v15.4M531.62 222.82v15.4M538.48 220.73v15.4M545.34 221.96v15.4M559.06 213.84v15.4M572.78 207.36v15.4M586.5 202.33v15.4M600.22 198.1v15.4" stroke-width="1.4" opacity=".8"/>
<path d="M98.6 201.9h15.4M112.32 196.93h15.4M126.04 190.25h15.4M139.76 182.02h15.4M153.48 174.67h15.4M160.34 171.94h15.4M167.2 170.18h15.4M180.92 170.01h15.4M194.64 175.65h15.4M208.36 186.72h15.4M222.08 202.47h15.4M235.8 217.9h15.4M249.52 227.85h15.4M263.24 233.43h15.4M276.96 232.46h15.4M283.82 229.5h15.4M290.68 226.32h15.4M304.4 220.41h15.4M318.12 213.21h15.4M331.84 207.81h15.4M345.56 204.3h15.4M359.28 199.72h15.4M373 190.09h15.4M386.72 186.11h15.4M400.44 177.73h15.4M407.3 173.96h15.4M414.16 171.04h15.4M427.88 171.88h15.4M441.6 176.9h15.4M455.32 187.76h15.4M469.04 203.14h15.4M482.76 217.61h15.4M496.48 226.17h15.4M510.2 231.73h15.4M523.92 230.52h15.4M530.78 228.43h15.4M537.64 229.66h15.4M551.36 221.54h15.4M565.08 215.06h15.4M578.8 210.03h15.4M592.52 205.8h15.4" stroke-width="2.4" opacity=".55"/>
<g stroke-width="2.3"><circle cx="106.3" cy="201.9" r="7.7"/><circle cx="120.02" cy="196.93" r="7.7"/><circle cx="133.74" cy="190.25" r="7.7"/><circle cx="147.46" cy="182.02" r="7.7"/><circle cx="161.18" cy="174.67" r="7.7"/><circle cx="168.04" cy="171.94" r="7.7"/><circle cx="174.9" cy="170.18" r="7.7"/><circle cx="188.62" cy="170.01" r="7.7"/><circle cx="202.34" cy="175.65" r="7.7"/><circle cx="216.06" cy="186.72" r="7.7"/><circle cx="229.78" cy="202.47" r="7.7"/><circle cx="243.5" cy="217.9" r="7.7"/><circle cx="257.22" cy="227.85" r="7.7"/><circle cx="270.94" cy="233.43" r="7.7"/><circle cx="284.66" cy="232.46" r="7.7"/><circle cx="291.52" cy="229.5" r="7.7"/><circle cx="298.38" cy="226.32" r="7.7"/><circle cx="312.1" cy="220.41" r="7.7"/><circle cx="325.82" cy="213.21" r="7.7"/><circle cx="339.54" cy="207.81" r="7.7"/><circle cx="353.26" cy="204.3" r="7.7"/><circle cx="366.98" cy="199.72" r="7.7"/><circle cx="380.7" cy="190.09" r="7.7"/><circle cx="394.42" cy="186.11" r="7.7"/><circle cx="408.14" cy="177.73" r="7.7"/><circle cx="415" cy="173.96" r="7.7"/><circle cx="421.86" cy="171.04" r="7.7"/><circle cx="435.58" cy="171.88" r="7.7"/><circle cx="449.3" cy="176.9" r="7.7"/><circle cx="463.02" cy="187.76" r="7.7"/><circle cx="476.74" cy="203.14" r="7.7"/><circle cx="490.46" cy="217.61" r="7.7"/><circle cx="504.18" cy="226.17" r="7.7"/><circle cx="517.9" cy="231.73" r="7.7"/><circle cx="531.62" cy="230.52" r="7.7"/><circle cx="538.48" cy="228.43" r="7.7"/><circle cx="545.34" cy="229.66" r="7.7"/><circle cx="559.06" cy="221.54" r="7.7"/><circle cx="572.78" cy="215.06" r="7.7"/><circle cx="586.5" cy="210.03" r="7.7"/><circle cx="600.22" cy="205.8" r="7.7"/></g>
</g>
<polyline points="106.3,207.63 109.04,206.53 111.79,205.37 114.53,204.16 117.28,202.86 120.02,201.47 122.76,200.01 125.51,198.46 128.25,196.86 131,195.22 133.74,193.57 136.48,191.9 139.23,190.25 141.97,188.6 144.72,186.97 147.46,185.37 150.2,183.8 152.95,182.29 155.69,180.84 158.44,179.49 161.18,178.23 163.92,177.09 166.67,176.07 169.41,175.18 172.16,174.43 174.9,173.84 177.64,173.42 180.39,173.19 183.13,173.18 185.88,173.39 188.62,173.83 191.36,174.51 194.11,175.41 196.85,176.54 199.6,177.89 202.34,179.47 205.08,181.27 207.83,183.28 210.57,185.47 213.32,187.84 216.06,190.35 218.8,192.99 221.55,195.74 224.29,198.6 227.04,201.53 229.78,204.51 232.52,207.49 235.27,210.45 238.01,213.33 240.76,216.11 243.5,218.76 246.24,221.25 248.99,223.57 251.73,225.68 254.48,227.59 257.22,229.27 259.96,230.69 262.71,231.84 265.45,232.72 268.2,233.32 270.94,233.66 273.68,233.77 276.43,233.67 279.17,233.37 281.92,232.91 284.66,232.29 287.4,231.53 290.15,230.65 292.89,229.67 295.64,228.64 298.38,227.56 301.12,226.47 303.87,225.36 306.61,224.24 309.36,223.12 312.1,222.01 314.84,220.9 317.59,219.79 320.33,218.69 323.08,217.59 325.82,216.5 328.56,215.42 331.31,214.35 334.05,213.29 336.8,212.28 339.54,211.32 342.28,210.43 345.03,209.61 347.77,208.85 350.52,208.13 353.26,207.4 356,206.64 358.75,205.8 361.49,204.9 364.24,203.92 366.98,202.86 369.72,201.72 372.47,200.51 375.21,199.2 377.96,197.79 380.7,196.27 383.44,194.64 386.19,192.9 388.93,191.09 391.68,189.25 394.42,187.46 397.16,185.74 399.91,184.13 402.65,182.65 405.4,181.29 408.14,180.07 410.88,178.98 413.63,178.02 416.37,177.19 419.12,176.51 421.86,175.99 424.6,175.61 427.35,175.39 430.09,175.34 432.84,175.47 435.58,175.79 438.32,176.33 441.07,177.09 443.81,178.08 446.56,179.32 449.3,180.79 452.04,182.5 454.79,184.44 457.53,186.6 460.28,188.97 463.02,191.53 465.76,194.29 468.51,197.19 471.25,200.21 474,203.28 476.74,206.38 479.48,209.43 482.23,212.4 484.97,215.25 487.72,217.96 490.46,220.51 493.2,222.91 495.95,225.16 498.69,227.25 501.44,229.18 504.18,230.93 506.92,232.48 509.67,233.83 512.41,234.93 515.16,235.79 517.9,236.4 520.64,236.76 523.39,236.9 526.13,236.82 528.88,236.54 531.62,236.06 534.36,235.41 537.11,234.6 539.85,233.66 542.6,232.61 545.34,231.46 548.08,230.23 550.83,228.94 553.57,227.61 556.32,226.25 559.06,224.9 561.8,223.55 564.55,222.23 567.29,220.95 570.04,219.71 572.78,218.52 575.52,217.39 578.27,216.32 581.01,215.3 583.76,214.33 586.5,213.4 589.24,212.5 591.99,211.63 594.73,210.79 597.48,209.97 600.22,209.19" fill="none" stroke="#3b5b8b" stroke-width="4.5" stroke-linejoin="round" stroke-linecap="round"/>
<g stroke="#1f3b5e" fill="none">
<path d="M106.3 133.6v15.4M120.02 131.5v15.4M133.74 129.54v15.4M147.46 127.61v15.4M161.18 126.09v15.4M168.04 125.49v15.4M174.9 125.03v15.4M188.62 125.04v15.4M202.34 126.19v15.4M216.06 129.66v15.4M229.78 134.34v15.4M243.5 139.33v15.4M257.22 143.01v15.4M270.94 145.32v15.4M284.66 146.19v15.4M291.52 145.99v15.4M298.38 145.17v15.4M312.1 142.04v15.4M325.82 138.26v15.4M339.54 135.57v15.4M353.26 132.2v15.4M366.98 130.07v15.4M380.7 128.4v15.4M394.42 126.83v15.4M408.14 125.56v15.4M415 124.98v15.4M421.86 124.63v15.4M435.58 124.5v15.4M449.3 125.55v15.4M463.02 128.9v15.4M476.74 134.35v15.4M490.46 139.17v15.4M504.18 143.16v15.4M517.9 145.25v15.4M531.62 145.87v15.4M538.48 145.53v15.4M545.34 144.43v15.4M559.06 141.14v15.4M572.78 137.67v15.4M586.5 134.71v15.4M600.22 132.65v15.4" stroke-width="1.4" opacity=".8"/>
<path d="M98.6 141.3h15.4M112.32 139.2h15.4M126.04 137.24h15.4M139.76 135.31h15.4M153.48 133.79h15.4M160.34 133.19h15.4M167.2 132.73h15.4M180.92 132.74h15.4M194.64 133.89h15.4M208.36 137.36h15.4M222.08 142.04h15.4M235.8 147.03h15.4M249.52 150.71h15.4M263.24 153.02h15.4M276.96 153.89h15.4M283.82 153.69h15.4M290.68 152.87h15.4M304.4 149.74h15.4M318.12 145.96h15.4M331.84 143.27h15.4M345.56 139.9h15.4M359.28 137.77h15.4M373 136.1h15.4M386.72 134.53h15.4M400.44 133.26h15.4M407.3 132.68h15.4M414.16 132.33h15.4M427.88 132.2h15.4M441.6 133.25h15.4M455.32 136.6h15.4M469.04 142.05h15.4M482.76 146.87h15.4M496.48 150.86h15.4M510.2 152.95h15.4M523.92 153.57h15.4M530.78 153.23h15.4M537.64 152.13h15.4M551.36 148.84h15.4M565.08 145.37h15.4M578.8 142.41h15.4M592.52 140.35h15.4" stroke-width="2.4" opacity=".55"/>
<g stroke-width="2.3"><circle cx="106.3" cy="141.3" r="7.7"/><circle cx="120.02" cy="139.2" r="7.7"/><circle cx="133.74" cy="137.24" r="7.7"/><circle cx="147.46" cy="135.31" r="7.7"/><circle cx="161.18" cy="133.79" r="7.7"/><circle cx="168.04" cy="133.19" r="7.7"/><circle cx="174.9" cy="132.73" r="7.7"/><circle cx="188.62" cy="132.74" r="7.7"/><circle cx="202.34" cy="133.89" r="7.7"/><circle cx="216.06" cy="137.36" r="7.7"/><circle cx="229.78" cy="142.04" r="7.7"/><circle cx="243.5" cy="147.03" r="7.7"/><circle cx="257.22" cy="150.71" r="7.7"/><circle cx="270.94" cy="153.02" r="7.7"/><circle cx="284.66" cy="153.89" r="7.7"/><circle cx="291.52" cy="153.69" r="7.7"/><circle cx="298.38" cy="152.87" r="7.7"/><circle cx="312.1" cy="149.74" r="7.7"/><circle cx="325.82" cy="145.96" r="7.7"/><circle cx="339.54" cy="143.27" r="7.7"/><circle cx="353.26" cy="139.9" r="7.7"/><circle cx="366.98" cy="137.77" r="7.7"/><circle cx="380.7" cy="136.1" r="7.7"/><circle cx="394.42" cy="134.53" r="7.7"/><circle cx="408.14" cy="133.26" r="7.7"/><circle cx="415" cy="132.68" r="7.7"/><circle cx="421.86" cy="132.33" r="7.7"/><circle cx="435.58" cy="132.2" r="7.7"/><circle cx="449.3" cy="133.25" r="7.7"/><circle cx="463.02" cy="136.6" r="7.7"/><circle cx="476.74" cy="142.05" r="7.7"/><circle cx="490.46" cy="146.87" r="7.7"/><circle cx="504.18" cy="150.86" r="7.7"/><circle cx="517.9" cy="152.95" r="7.7"/><circle cx="531.62" cy="153.57" r="7.7"/><circle cx="538.48" cy="153.23" r="7.7"/><circle cx="545.34" cy="152.13" r="7.7"/><circle cx="559.06" cy="148.84" r="7.7"/><circle cx="572.78" cy="145.37" r="7.7"/><circle cx="586.5" cy="142.41" r="7.7"/><circle cx="600.22" cy="140.35" r="7.7"/></g>
</g>
<polyline points="106.3,141.3 109.04,140.88 111.79,140.45 114.53,140.04 117.28,139.62 120.02,139.21 122.76,138.81 125.51,138.41 128.25,138.02 131,137.63 133.74,137.24 136.48,136.86 139.23,136.47 141.97,136.09 144.72,135.72 147.46,135.36 150.2,135.01 152.95,134.68 155.69,134.38 158.44,134.09 161.18,133.83 163.92,133.58 166.67,133.36 169.41,133.15 172.16,132.98 174.9,132.85 177.64,132.76 180.39,132.72 183.13,132.71 185.88,132.75 188.62,132.83 191.36,132.95 194.11,133.13 196.85,133.38 199.6,133.7 202.34,134.1 205.08,134.59 207.83,135.17 210.57,135.85 213.32,136.61 216.06,137.44 218.8,138.32 221.55,139.23 224.29,140.16 227.04,141.1 229.78,142.07 232.52,143.04 235.27,144.02 238.01,144.99 240.76,145.94 243.5,146.86 246.24,147.72 248.99,148.52 251.73,149.26 254.48,149.94 257.22,150.56 259.96,151.13 262.71,151.64 265.45,152.1 268.2,152.5 270.94,152.85 273.68,153.13 276.43,153.36 279.17,153.53 281.92,153.64 284.66,153.69 287.4,153.66 290.15,153.54 292.89,153.33 295.64,153.03 298.38,152.63 301.12,152.15 303.87,151.6 306.61,151 309.36,150.34 312.1,149.65 314.84,148.93 317.59,148.19 320.33,147.47 323.08,146.77 325.82,146.1 328.56,145.48 331.31,144.88 334.05,144.32 336.8,143.76 339.54,143.19 342.28,142.6 345.03,141.99 347.77,141.36 350.52,140.73 353.26,140.12 356,139.56 358.75,139.06 361.49,138.61 364.24,138.19 366.98,137.81 369.72,137.45 372.47,137.11 375.21,136.77 377.96,136.44 380.7,136.11 383.44,135.78 386.19,135.46 388.93,135.15 391.68,134.85 394.42,134.56 397.16,134.29 399.91,134.02 402.65,133.77 405.4,133.52 408.14,133.28 410.88,133.06 413.63,132.86 416.37,132.68 419.12,132.54 421.86,132.43 424.6,132.35 427.35,132.3 430.09,132.27 432.84,132.28 435.58,132.32 438.32,132.42 441.07,132.57 443.81,132.8 446.56,133.1 449.3,133.48 452.04,133.96 454.79,134.53 457.53,135.2 460.28,135.97 463.02,136.83 465.76,137.77 468.51,138.78 471.25,139.83 474,140.89 476.74,141.95 479.48,142.98 482.23,143.99 484.97,144.96 487.72,145.9 490.46,146.82 493.2,147.7 495.95,148.53 498.69,149.32 501.44,150.03 504.18,150.68 506.92,151.24 509.67,151.74 512.41,152.17 515.16,152.53 517.9,152.82 520.64,153.06 523.39,153.24 526.13,153.35 528.88,153.4 531.62,153.38 534.36,153.28 537.11,153.09 539.85,152.8 542.6,152.42 545.34,151.95 548.08,151.41 550.83,150.81 553.57,150.18 556.32,149.51 559.06,148.83 561.8,148.15 564.55,147.46 567.29,146.77 570.04,146.09 572.78,145.43 575.52,144.79 578.27,144.18 581.01,143.59 583.76,143.03 586.5,142.51 589.24,142.02 591.99,141.57 594.73,141.15 597.48,140.77 600.22,140.4" fill="none" stroke="#1f3b5e" stroke-width="4.5" stroke-linejoin="round" stroke-linecap="round"/>
</g>
<line x1="168.04" y1="106.4" x2="168.04" y2="923.3" stroke="#303030" stroke-width="1.4" stroke-dasharray="4.6 4.5"/>
<line x1="291.52" y1="106.4" x2="291.52" y2="923.3" stroke="#303030" stroke-width="1.4" stroke-dasharray="4.6 4.5"/>
<line x1="415" y1="106.4" x2="415" y2="923.3" stroke="#303030" stroke-width="1.4" stroke-dasharray="4.6 4.5"/>
<line x1="538.48" y1="106.4" x2="538.48" y2="923.3" stroke="#303030" stroke-width="1.4" stroke-dasharray="4.6 4.5"/>
<rect x="99.7" y="106.4" width="507.1" height="816.9" fill="none" stroke="#000" stroke-width="2.1"/>
<line x1="106.3" y1="923.3" x2="106.3" y2="932.6" stroke="#000" stroke-width="2.1"/>
<text font-size="27" text-anchor="middle" transform="translate(106.3 959.6) scale(1 1.05)">0</text>
<line x1="174.9" y1="923.3" x2="174.9" y2="932.6" stroke="#000" stroke-width="2.1"/>
<text font-size="27" text-anchor="middle" transform="translate(174.9 959.6) scale(1 1.05)">50</text>
<line x1="243.5" y1="923.3" x2="243.5" y2="932.6" stroke="#000" stroke-width="2.1"/>
<text font-size="27" text-anchor="middle" transform="translate(243.5 959.6) scale(1 1.05)">100</text>
<line x1="312.1" y1="923.3" x2="312.1" y2="932.6" stroke="#000" stroke-width="2.1"/>
<text font-size="27" text-anchor="middle" transform="translate(312.1 959.6) scale(1 1.05)">150</text>
<line x1="380.7" y1="923.3" x2="380.7" y2="932.6" stroke="#000" stroke-width="2.1"/>
<text font-size="27" text-anchor="middle" transform="translate(380.7 959.6) scale(1 1.05)">200</text>
<line x1="449.3" y1="923.3" x2="449.3" y2="932.6" stroke="#000" stroke-width="2.1"/>
<text font-size="27" text-anchor="middle" transform="translate(449.3 959.6) scale(1 1.05)">250</text>
<line x1="517.9" y1="923.3" x2="517.9" y2="932.6" stroke="#000" stroke-width="2.1"/>
<text font-size="27" text-anchor="middle" transform="translate(517.9 959.6) scale(1 1.05)">300</text>
<line x1="586.5" y1="923.3" x2="586.5" y2="932.6" stroke="#000" stroke-width="2.1"/>
<text font-size="27" text-anchor="middle" transform="translate(586.5 959.6) scale(1 1.05)">350</text>
<line x1="140.6" y1="923.3" x2="140.6" y2="927.9" stroke="#000" stroke-width="2.1"/>
<line x1="209.2" y1="923.3" x2="209.2" y2="927.9" stroke="#000" stroke-width="2.1"/>
<line x1="277.8" y1="923.3" x2="277.8" y2="927.9" stroke="#000" stroke-width="2.1"/>
<line x1="346.4" y1="923.3" x2="346.4" y2="927.9" stroke="#000" stroke-width="2.1"/>
<line x1="415" y1="923.3" x2="415" y2="927.9" stroke="#000" stroke-width="2.1"/>
<line x1="483.6" y1="923.3" x2="483.6" y2="927.9" stroke="#000" stroke-width="2.1"/>
<line x1="552.2" y1="923.3" x2="552.2" y2="927.9" stroke="#000" stroke-width="2.1"/>
<line x1="99.7" y1="882.3" x2="90.4" y2="882.3" stroke="#000" stroke-width="2.1"/>
<text font-size="27" text-anchor="end" transform="translate(83.5 892) scale(1 1.05)">0.0</text>
<line x1="99.7" y1="719" x2="90.4" y2="719" stroke="#000" stroke-width="2.1"/>
<text font-size="27" text-anchor="end" transform="translate(83.5 728.7) scale(1 1.05)">0.1</text>
<line x1="99.7" y1="555.7" x2="90.4" y2="555.7" stroke="#000" stroke-width="2.1"/>
<text font-size="27" text-anchor="end" transform="translate(83.5 565.4) scale(1 1.05)">0.2</text>
<line x1="99.7" y1="392.4" x2="90.4" y2="392.4" stroke="#000" stroke-width="2.1"/>
<text font-size="27" text-anchor="end" transform="translate(83.5 402.1) scale(1 1.05)">0.3</text>
<line x1="99.7" y1="229.1" x2="90.4" y2="229.1" stroke="#000" stroke-width="2.1"/>
<text font-size="27" text-anchor="end" transform="translate(83.5 238.8) scale(1 1.05)">0.4</text>
<line x1="99.7" y1="800.65" x2="95.1" y2="800.65" stroke="#000" stroke-width="2.1"/>
<line x1="99.7" y1="637.35" x2="95.1" y2="637.35" stroke="#000" stroke-width="2.1"/>
<line x1="99.7" y1="474.05" x2="95.1" y2="474.05" stroke="#000" stroke-width="2.1"/>
<line x1="99.7" y1="310.75" x2="95.1" y2="310.75" stroke="#000" stroke-width="2.1"/>
<line x1="99.7" y1="147.45" x2="95.1" y2="147.45" stroke="#000" stroke-width="2.1"/>
<text x="353" y="1008.9" font-size="30.4" text-anchor="middle" letter-spacing="0.25">Angle (°)</text>
<text font-size="30" text-anchor="middle" transform="translate(25.4 514.5) rotate(-90) scale(1 1.06)"><tspan font-style='italic'>I</tspan><tspan font-size='22.5' dy='6.5'>pc</tspan><tspan dy='-6.5'> (nA)</tspan></text>
<text x="491" y="52.6" font-size="29.6"><tspan font-style='italic'>X</tspan> Position</text>
<text x="603.8" y="175.8" font-size="20.6" text-anchor="end">24 <tspan font-family='"Liberation Serif", serif' font-size='108%'>μ</tspan>m</text>
<text x="603.8" y="250.5" font-size="20.6" text-anchor="end">18 <tspan font-family='"Liberation Serif", serif' font-size='108%'>μ</tspan>m</text>
<text x="603.8" y="382.4" font-size="20.6" text-anchor="end">12 <tspan font-family='"Liberation Serif", serif' font-size='108%'>μ</tspan>m</text>
<text x="603.8" y="449.4" font-size="20.6" text-anchor="end">4 <tspan font-family='"Liberation Serif", serif' font-size='108%'>μ</tspan>m</text>
<text x="603.8" y="560.5" font-size="20.6" text-anchor="end">0 <tspan font-family='"Liberation Serif", serif' font-size='108%'>μ</tspan>m</text>
<text x="603.8" y="693.5" font-size="20.6" text-anchor="end">-10 <tspan font-family='"Liberation Serif", serif' font-size='108%'>μ</tspan>m</text>
<text x="603.8" y="827.5" font-size="20.6" text-anchor="end">-18 <tspan font-family='"Liberation Serif", serif' font-size='108%'>μ</tspan>m</text>
<text x="603.8" y="902.2" font-size="20.6" text-anchor="end">-24 <tspan font-family='"Liberation Serif", serif' font-size='108%'>μ</tspan>m</text>
<path d="M155.19 101.06A16.9 16.9 0 1 1 183.03 92.01" fill="none" stroke="#000" stroke-width="2.8" stroke-linecap="round"/>
<path d="M176.03 84.61L183.03 92.21L190.03 84.61" fill="none" stroke="#000" stroke-width="2.8" stroke-linecap="round" stroke-linejoin="miter"/>
<path d="M306.81 101.06A16.9 16.9 0 1 0 278.97 92.01" fill="none" stroke="#000" stroke-width="2.8" stroke-linecap="round"/>
<path d="M271.97 84.61L278.97 92.21L285.97 84.61" fill="none" stroke="#000" stroke-width="2.8" stroke-linecap="round" stroke-linejoin="miter"/>
<path d="M401.69 101.06A16.9 16.9 0 1 1 429.53 92.01" fill="none" stroke="#000" stroke-width="2.8" stroke-linecap="round"/>
<path d="M422.53 84.61L429.53 92.21L436.53 84.61" fill="none" stroke="#000" stroke-width="2.8" stroke-linecap="round" stroke-linejoin="miter"/>
<path d="M552.81 101.06A16.9 16.9 0 1 0 524.97 92.01" fill="none" stroke="#000" stroke-width="2.8" stroke-linecap="round"/>
<path d="M517.97 84.61L524.97 92.21L531.97 84.61" fill="none" stroke="#000" stroke-width="2.8" stroke-linecap="round" stroke-linejoin="miter"/>
<text x="691" y="27" font-size="32" font-weight="bold">b</text>
<rect x="801.6" y="409.4" width="497.8" height="24.0" fill="#c3c3c3" stroke="#9c9c9c" stroke-width="1"/>
<rect x="1026.4" y="372.6" width="47.3" height="36.3" fill="#edb25b" stroke="#cc9a50" stroke-width="1"/>
<text x="1050" y="397.5" font-size="19.5" text-anchor="middle">Ti/Au</text>
<text x="1283" y="425.9" font-size="20" text-anchor="end">MoTe<tspan font-size='13.5' dy='4.8'>2</tspan></text>
<polyline points="848.26,210.77 865.15,227.46 882.03,246.86 898.92,274.79 915.81,305.83 932.69,322.52 949.58,347.74 966.47,359.38 983.35,359.76 1000.24,343.08 1017.13,325.62 1034.01,298.46 1050.9,263.15 1067.79,231.34 1084.67,195.64 1101.56,157.62 1118.45,100.97 1135.33,76.91 1152.22,59.06 1169.11,69.93 1185.99,84.67 1202.88,118.82 1219.77,143.26 1236.65,155.68 1253.54,162.27" fill="none" stroke="#000" stroke-width="1.8" stroke-linejoin="round" stroke-linecap="round"/>
<path d="M848.26 208.83V212.71M841.66 208.83H854.86M841.66 212.71H854.86" stroke="#000" stroke-width="1.6" fill="none"/>
<circle cx="848.26" cy="210.77" r="5.5" fill="#000"/>
<path d="M865.15 225.52V229.4M858.55 225.52H871.75M858.55 229.4H871.75" stroke="#000" stroke-width="1.6" fill="none"/>
<circle cx="865.15" cy="227.46" r="5.5" fill="#000"/>
<path d="M882.03 244.72V248.99M875.43 244.72H888.63M875.43 248.99H888.63" stroke="#000" stroke-width="1.6" fill="none"/>
<circle cx="882.03" cy="246.86" r="5.5" fill="#000"/>
<path d="M898.92 272.08V277.51M892.32 272.08H905.52M892.32 277.51H905.52" stroke="#000" stroke-width="1.6" fill="none"/>
<circle cx="898.92" cy="274.79" r="5.5" fill="#000"/>
<path d="M915.81 303.12V308.55M909.21 303.12H922.41M909.21 308.55H922.41" stroke="#000" stroke-width="1.6" fill="none"/>
<circle cx="915.81" cy="305.83" r="5.5" fill="#000"/>
<path d="M932.69 317.08V327.95M926.09 317.08H939.29M926.09 327.95H939.29" stroke="#000" stroke-width="1.6" fill="none"/>
<circle cx="932.69" cy="322.52" r="5.5" fill="#000"/>
<path d="M949.58 345.02V350.45M942.98 345.02H956.18M942.98 350.45H956.18" stroke="#000" stroke-width="1.6" fill="none"/>
<circle cx="949.58" cy="347.74" r="5.5" fill="#000"/>
<path d="M966.47 357.44V361.32M959.87 357.44H973.07M959.87 361.32H973.07" stroke="#000" stroke-width="1.6" fill="none"/>
<circle cx="966.47" cy="359.38" r="5.5" fill="#000"/>
<path d="M983.35 357.63V361.9M976.75 357.63H989.95M976.75 361.9H989.95" stroke="#000" stroke-width="1.6" fill="none"/>
<circle cx="983.35" cy="359.76" r="5.5" fill="#000"/>
<path d="M1000.24 340.36V345.8M993.64 340.36H1006.84M993.64 345.8H1006.84" stroke="#000" stroke-width="1.6" fill="none"/>
<circle cx="1000.24" cy="343.08" r="5.5" fill="#000"/>
<path d="M1017.13 320.96V330.28M1010.53 320.96H1023.73M1010.53 330.28H1023.73" stroke="#000" stroke-width="1.6" fill="none"/>
<circle cx="1017.13" cy="325.62" r="5.5" fill="#000"/>
<path d="M1034.01 292.25V304.67M1027.41 292.25H1040.61M1027.41 304.67H1040.61" stroke="#000" stroke-width="1.6" fill="none"/>
<circle cx="1034.01" cy="298.46" r="5.5" fill="#000"/>
<path d="M1050.9 260.05V266.26M1044.3 260.05H1057.5M1044.3 266.26H1057.5" stroke="#000" stroke-width="1.6" fill="none"/>
<circle cx="1050.9" cy="263.15" r="5.5" fill="#000"/>
<path d="M1067.79 229.01V233.66M1061.19 229.01H1074.39M1061.19 233.66H1074.39" stroke="#000" stroke-width="1.6" fill="none"/>
<circle cx="1067.79" cy="231.34" r="5.5" fill="#000"/>
<path d="M1084.67 191.57V199.71M1078.07 191.57H1091.27M1078.07 199.71H1091.27" stroke="#000" stroke-width="1.6" fill="none"/>
<circle cx="1084.67" cy="195.64" r="5.5" fill="#000"/>
<path d="M1101.56 149.86V165.38M1094.96 149.86H1108.16M1094.96 165.38H1108.16" stroke="#000" stroke-width="1.6" fill="none"/>
<circle cx="1101.56" cy="157.62" r="5.5" fill="#000"/>
<path d="M1118.45 92.43V109.5M1111.85 92.43H1125.05M1111.85 109.5H1125.05" stroke="#000" stroke-width="1.6" fill="none"/>
<circle cx="1118.45" cy="100.97" r="5.5" fill="#000"/>
<path d="M1135.33 74.2V79.63M1128.73 74.2H1141.93M1128.73 79.63H1141.93" stroke="#000" stroke-width="1.6" fill="none"/>
<circle cx="1135.33" cy="76.91" r="5.5" fill="#000"/>
<path d="M1152.22 57.12V61M1145.62 57.12H1158.82M1145.62 61H1158.82" stroke="#000" stroke-width="1.6" fill="none"/>
<circle cx="1152.22" cy="59.06" r="5.5" fill="#000"/>
<path d="M1169.11 67.79V72.06M1162.51 67.79H1175.71M1162.51 72.06H1175.71" stroke="#000" stroke-width="1.6" fill="none"/>
<circle cx="1169.11" cy="69.93" r="5.5" fill="#000"/>
<path d="M1185.99 82.34V87M1179.39 82.34H1192.59M1179.39 87H1192.59" stroke="#000" stroke-width="1.6" fill="none"/>
<circle cx="1185.99" cy="84.67" r="5.5" fill="#000"/>
<path d="M1202.88 116.49V121.14M1196.28 116.49H1209.48M1196.28 121.14H1209.48" stroke="#000" stroke-width="1.6" fill="none"/>
<circle cx="1202.88" cy="118.82" r="5.5" fill="#000"/>
<path d="M1219.77 141.13V145.39M1213.17 141.13H1226.37M1213.17 145.39H1226.37" stroke="#000" stroke-width="1.6" fill="none"/>
<circle cx="1219.77" cy="143.26" r="5.5" fill="#000"/>
<path d="M1236.65 153.74V157.62M1230.05 153.74H1243.25M1230.05 157.62H1243.25" stroke="#000" stroke-width="1.6" fill="none"/>
<circle cx="1236.65" cy="155.68" r="5.5" fill="#000"/>
<path d="M1253.54 160.33V164.21M1246.94 160.33H1260.14M1246.94 164.21H1260.14" stroke="#000" stroke-width="1.6" fill="none"/>
<circle cx="1253.54" cy="162.27" r="5.5" fill="#000"/>
<rect x="797.6" y="28.8" width="506.6" height="407.4" fill="none" stroke="#000" stroke-width="1.7"/>
<line x1="839.82" y1="436.2" x2="839.82" y2="440.4" stroke="#000" stroke-width="1.7"/>
<line x1="924.25" y1="436.2" x2="924.25" y2="440.4" stroke="#000" stroke-width="1.7"/>
<line x1="1008.68" y1="436.2" x2="1008.68" y2="440.4" stroke="#000" stroke-width="1.7"/>
<line x1="1093.12" y1="436.2" x2="1093.12" y2="440.4" stroke="#000" stroke-width="1.7"/>
<line x1="1177.55" y1="436.2" x2="1177.55" y2="440.4" stroke="#000" stroke-width="1.7"/>
<line x1="1261.98" y1="436.2" x2="1261.98" y2="440.4" stroke="#000" stroke-width="1.7"/>
<line x1="797.6" y1="436.2" x2="797.6" y2="444" stroke="#000" stroke-width="1.7"/>
<text font-size="27.3" text-anchor="middle" transform="translate(797.6 471.4) scale(1 1.06)">-30</text>
<line x1="882.03" y1="436.2" x2="882.03" y2="444" stroke="#000" stroke-width="1.7"/>
<text font-size="27.3" text-anchor="middle" transform="translate(882.03 471.4) scale(1 1.06)">-20</text>
<line x1="966.47" y1="436.2" x2="966.47" y2="444" stroke="#000" stroke-width="1.7"/>
<text font-size="27.3" text-anchor="middle" transform="translate(966.47 471.4) scale(1 1.06)">-10</text>
<line x1="1050.9" y1="436.2" x2="1050.9" y2="444" stroke="#000" stroke-width="1.7"/>
<text font-size="27.3" text-anchor="middle" transform="translate(1050.9 471.4) scale(1 1.06)">0</text>
<line x1="1135.33" y1="436.2" x2="1135.33" y2="444" stroke="#000" stroke-width="1.7"/>
<text font-size="27.3" text-anchor="middle" transform="translate(1135.33 471.4) scale(1 1.06)">10</text>
<line x1="1219.77" y1="436.2" x2="1219.77" y2="444" stroke="#000" stroke-width="1.7"/>
<text font-size="27.3" text-anchor="middle" transform="translate(1219.77 471.4) scale(1 1.06)">20</text>
<line x1="1304.2" y1="436.2" x2="1304.2" y2="444" stroke="#000" stroke-width="1.7"/>
<text font-size="27.3" text-anchor="middle" transform="translate(1304.2 471.4) scale(1 1.06)">30</text>
<line x1="797.6" y1="378" x2="793.4" y2="378" stroke="#000" stroke-width="1.7"/>
<line x1="797.6" y1="300.4" x2="793.4" y2="300.4" stroke="#000" stroke-width="1.7"/>
<line x1="797.6" y1="222.8" x2="793.4" y2="222.8" stroke="#000" stroke-width="1.7"/>
<line x1="797.6" y1="145.2" x2="793.4" y2="145.2" stroke="#000" stroke-width="1.7"/>
<line x1="797.6" y1="67.6" x2="793.4" y2="67.6" stroke="#000" stroke-width="1.7"/>
<line x1="797.6" y1="416.8" x2="789.8" y2="416.8" stroke="#000" stroke-width="1.7"/>
<text font-size="27.3" text-anchor="end" transform="translate(783.8 425) scale(1 1.06)">-60</text>
<line x1="797.6" y1="339.2" x2="789.8" y2="339.2" stroke="#000" stroke-width="1.7"/>
<text font-size="27.3" text-anchor="end" transform="translate(783.8 347.4) scale(1 1.06)">-40</text>
<line x1="797.6" y1="261.6" x2="789.8" y2="261.6" stroke="#000" stroke-width="1.7"/>
<text font-size="27.3" text-anchor="end" transform="translate(783.8 269.8) scale(1 1.06)">-20</text>
<line x1="797.6" y1="184" x2="789.8" y2="184" stroke="#000" stroke-width="1.7"/>
<text font-size="27.3" text-anchor="end" transform="translate(783.8 192.2) scale(1 1.06)">0</text>
<line x1="797.6" y1="106.4" x2="789.8" y2="106.4" stroke="#000" stroke-width="1.7"/>
<text font-size="27.3" text-anchor="end" transform="translate(783.8 114.6) scale(1 1.06)">20</text>
<line x1="797.6" y1="28.8" x2="789.8" y2="28.8" stroke="#000" stroke-width="1.7"/>
<text font-size="27.3" text-anchor="end" transform="translate(783.8 37) scale(1 1.06)">40</text>
<text font-size="29" text-anchor="middle" transform="translate(721.8 231) rotate(-90) scale(1 1.07)"><tspan font-style='italic'>C</tspan> (pA)</text>
<text x="1046.6" y="518.6" font-size="29.2" text-anchor="middle"><tspan font-style='italic'>X</tspan> Position (<tspan font-family='"Liberation Serif", serif' font-size='108%'>μ</tspan>m)</text>
<g transform="translate(0 0)">
<rect x="832.7" y="44.1" width="146.1" height="83.1" fill="#dcdcdc" stroke="#000" stroke-width="2.2"/>
<rect x="889.8" y="42.3" width="31.9" height="21.7" fill="#f0c830" stroke="#000" stroke-width="2"/>
<rect x="889.8" y="107.8" width="31.9" height="21.7" fill="#f0c830" stroke="#000" stroke-width="2"/>
<rect x="855" y="54.2" width="100.8" height="61.5" fill="none" stroke="#000" stroke-width="2" stroke-dasharray="7.5 6.7"/>
<path d="M906.9 111.5V66" stroke="#808080" stroke-width="2.5" fill="none"/>
<path d="M906.9 56.4L901.5 67.8H912.3Z" fill="#808080"/>
<path d="M855 85.6H945" stroke="#000" stroke-width="2.9" fill="none"/>
<path d="M955 85.6L943.4 79.8V91.4Z" fill="#000"/>
<circle cx="906.9" cy="85.6" r="3.1" fill="#000"/>
<text x="875" y="71.8" font-size="17" font-style="italic" fill="#808080">Y</text>
<text x="889.3" y="101.2" font-size="17.2">O</text>
<text x="960" y="93.4" font-size="17.4" font-style="italic">X</text>
</g>
<text x="691" y="553" font-size="32" font-weight="bold">c</text>
<rect x="804.4" y="935.2" width="497.5" height="23.8" fill="#c3c3c3" stroke="#9c9c9c" stroke-width="1"/>
<rect x="804.4" y="897.6" width="97.6" height="36.3" fill="#edb25b" stroke="#cc9a50" stroke-width="1"/>
<rect x="1177.7" y="897.6" width="123.5" height="36.3" fill="#edb25b" stroke="#cc9a50" stroke-width="1"/>
<text x="847" y="924.4" font-size="19.5" text-anchor="middle">Ti/Au</text>
<text x="1237.3" y="924.2" font-size="19.5" text-anchor="middle">Ti/Au</text>
<text x="1037" y="951.5" font-size="20" text-anchor="middle">MoTe<tspan font-size='13.5' dy='4.8'>2</tspan></text>
<path d="M859.01 732.97L865.67 730.11M878.19 720.84L889.2 707.87M900.39 696.5L909.71 688.33M922.9 686.61L929.91 690.07M940.61 700.79L954.92 729.97M960.79 744.8L977.46 799.23M984.63 813.26L996.33 828.74M1008.33 838.66L1015.34 842.12M1027.27 852.1L1039.12 868.14M1051.6 876.67L1057.51 878.27M1071.98 884.66L1079.84 889.67M1090.37 886.92L1104.16 861.22M1109.21 846.27L1128.04 728.72M1131.79 713.22L1148.17 663.11M1153.45 648.01L1169.23 605.52M1178.42 602.82L1186.97 609.22M1197.92 620.59L1210.19 638.38M1220.89 650.07L1229.93 657.55M1241.35 668.68L1252.19 681.12" fill="none" stroke="#000" stroke-width="2.7" stroke-linecap="round"/>
<path d="M851.66 732.73V739.53M845.06 732.73H858.26M845.06 739.53H858.26" stroke="#000" stroke-width="1.6" fill="none"/>
<circle cx="851.66" cy="736.13" r="5.5" fill="#000"/>
<path d="M873.02 723.54V730.35M866.42 723.54H879.62M866.42 730.35H879.62" stroke="#000" stroke-width="1.6" fill="none"/>
<circle cx="873.02" cy="726.94" r="5.5" fill="#000"/>
<path d="M894.37 697.69V705.85M887.77 697.69H900.97M887.77 705.85H900.97" stroke="#000" stroke-width="1.6" fill="none"/>
<circle cx="894.37" cy="701.77" r="5.5" fill="#000"/>
<path d="M915.73 678.64V687.49M909.13 678.64H922.33M909.13 687.49H922.33" stroke="#000" stroke-width="1.6" fill="none"/>
<circle cx="915.73" cy="683.06" r="5.5" fill="#000"/>
<path d="M937.09 689.19V698.03M930.49 689.19H943.69M930.49 698.03H943.69" stroke="#000" stroke-width="1.6" fill="none"/>
<circle cx="937.09" cy="693.61" r="5.5" fill="#000"/>
<path d="M958.45 731.03V743.27M951.85 731.03H965.05M951.85 743.27H965.05" stroke="#000" stroke-width="1.6" fill="none"/>
<circle cx="958.45" cy="737.15" r="5.5" fill="#000"/>
<path d="M979.8 798.38V815.39M973.2 798.38H986.4M973.2 815.39H986.4" stroke="#000" stroke-width="1.6" fill="none"/>
<circle cx="979.8" cy="806.88" r="5.5" fill="#000"/>
<path d="M1001.16 825.93V844.3M994.56 825.93H1007.76M994.56 844.3H1007.76" stroke="#000" stroke-width="1.6" fill="none"/>
<circle cx="1001.16" cy="835.12" r="5.5" fill="#000"/>
<path d="M1022.52 834.78V856.55M1015.92 834.78H1029.12M1015.92 856.55H1029.12" stroke="#000" stroke-width="1.6" fill="none"/>
<circle cx="1022.52" cy="845.66" r="5.5" fill="#000"/>
<path d="M1043.87 866.07V883.08M1037.27 866.07H1050.47M1037.27 883.08H1050.47" stroke="#000" stroke-width="1.6" fill="none"/>
<circle cx="1043.87" cy="874.58" r="5.5" fill="#000"/>
<path d="M1065.23 870.15V890.57M1058.63 870.15H1071.83M1058.63 890.57H1071.83" stroke="#000" stroke-width="1.6" fill="none"/>
<circle cx="1065.23" cy="880.36" r="5.5" fill="#000"/>
<path d="M1086.59 885.46V902.47M1079.99 885.46H1093.19M1079.99 902.47H1093.19" stroke="#000" stroke-width="1.6" fill="none"/>
<circle cx="1086.59" cy="893.97" r="5.5" fill="#000"/>
<path d="M1107.95 845.66V862.67M1101.35 845.66H1114.55M1101.35 862.67H1114.55" stroke="#000" stroke-width="1.6" fill="none"/>
<circle cx="1107.95" cy="854.17" r="5.5" fill="#000"/>
<path d="M1129.3 715.72V725.92M1122.7 715.72H1135.9M1122.7 725.92H1135.9" stroke="#000" stroke-width="1.6" fill="none"/>
<circle cx="1129.3" cy="720.82" r="5.5" fill="#000"/>
<path d="M1150.66 644.28V666.74M1144.06 644.28H1157.26M1144.06 666.74H1157.26" stroke="#000" stroke-width="1.6" fill="none"/>
<circle cx="1150.66" cy="655.51" r="5.5" fill="#000"/>
<path d="M1172.02 587.14V608.91M1165.42 587.14H1178.62M1165.42 608.91H1178.62" stroke="#000" stroke-width="1.6" fill="none"/>
<circle cx="1172.02" cy="598.02" r="5.5" fill="#000"/>
<path d="M1193.37 605.17V622.85M1186.77 605.17H1199.97M1186.77 622.85H1199.97" stroke="#000" stroke-width="1.6" fill="none"/>
<circle cx="1193.37" cy="614.01" r="5.5" fill="#000"/>
<path d="M1214.73 636.46V653.47M1208.13 636.46H1221.33M1208.13 653.47H1221.33" stroke="#000" stroke-width="1.6" fill="none"/>
<circle cx="1214.73" cy="644.96" r="5.5" fill="#000"/>
<path d="M1236.09 657.55V667.76M1229.49 657.55H1242.69M1229.49 667.76H1242.69" stroke="#000" stroke-width="1.6" fill="none"/>
<circle cx="1236.09" cy="662.65" r="5.5" fill="#000"/>
<path d="M1257.45 681.87V692.42M1250.85 681.87H1264.05M1250.85 692.42H1264.05" stroke="#000" stroke-width="1.6" fill="none"/>
<circle cx="1257.45" cy="687.15" r="5.5" fill="#000"/>
<rect x="798.8" y="553.8" width="506.7" height="408.2" fill="none" stroke="#000" stroke-width="1.7"/>
<line x1="851.66" y1="962" x2="851.66" y2="966.2" stroke="#000" stroke-width="1.7"/>
<line x1="905.05" y1="962" x2="905.05" y2="966.2" stroke="#000" stroke-width="1.7"/>
<line x1="958.45" y1="962" x2="958.45" y2="966.2" stroke="#000" stroke-width="1.7"/>
<line x1="1011.84" y1="962" x2="1011.84" y2="966.2" stroke="#000" stroke-width="1.7"/>
<line x1="1065.23" y1="962" x2="1065.23" y2="966.2" stroke="#000" stroke-width="1.7"/>
<line x1="1118.62" y1="962" x2="1118.62" y2="966.2" stroke="#000" stroke-width="1.7"/>
<line x1="1172.02" y1="962" x2="1172.02" y2="966.2" stroke="#000" stroke-width="1.7"/>
<line x1="1225.41" y1="962" x2="1225.41" y2="966.2" stroke="#000" stroke-width="1.7"/>
<line x1="1278.8" y1="962" x2="1278.8" y2="966.2" stroke="#000" stroke-width="1.7"/>
<line x1="824.96" y1="962" x2="824.96" y2="969.8" stroke="#000" stroke-width="1.7"/>
<text font-size="27.3" text-anchor="middle" transform="translate(824.96 997.2) scale(1 1.06)">-20</text>
<line x1="878.36" y1="962" x2="878.36" y2="969.8" stroke="#000" stroke-width="1.7"/>
<text font-size="27.3" text-anchor="middle" transform="translate(878.36 997.2) scale(1 1.06)">-15</text>
<line x1="931.75" y1="962" x2="931.75" y2="969.8" stroke="#000" stroke-width="1.7"/>
<text font-size="27.3" text-anchor="middle" transform="translate(931.75 997.2) scale(1 1.06)">-10</text>
<line x1="985.14" y1="962" x2="985.14" y2="969.8" stroke="#000" stroke-width="1.7"/>
<text font-size="27.3" text-anchor="middle" transform="translate(985.14 997.2) scale(1 1.06)">-5</text>
<line x1="1038.53" y1="962" x2="1038.53" y2="969.8" stroke="#000" stroke-width="1.7"/>
<text font-size="27.3" text-anchor="middle" transform="translate(1038.53 997.2) scale(1 1.06)">0</text>
<line x1="1091.93" y1="962" x2="1091.93" y2="969.8" stroke="#000" stroke-width="1.7"/>
<text font-size="27.3" text-anchor="middle" transform="translate(1091.93 997.2) scale(1 1.06)">5</text>
<line x1="1145.32" y1="962" x2="1145.32" y2="969.8" stroke="#000" stroke-width="1.7"/>
<text font-size="27.3" text-anchor="middle" transform="translate(1145.32 997.2) scale(1 1.06)">10</text>
<line x1="1198.71" y1="962" x2="1198.71" y2="969.8" stroke="#000" stroke-width="1.7"/>
<text font-size="27.3" text-anchor="middle" transform="translate(1198.71 997.2) scale(1 1.06)">15</text>
<line x1="1252.11" y1="962" x2="1252.11" y2="969.8" stroke="#000" stroke-width="1.7"/>
<text font-size="27.3" text-anchor="middle" transform="translate(1252.11 997.2) scale(1 1.06)">20</text>
<line x1="1305.5" y1="962" x2="1305.5" y2="969.8" stroke="#000" stroke-width="1.7"/>
<text font-size="27.3" text-anchor="middle" transform="translate(1305.5 997.2) scale(1 1.06)">25</text>
<line x1="798.8" y1="927.98" x2="794.6" y2="927.98" stroke="#000" stroke-width="1.7"/>
<line x1="798.8" y1="859.95" x2="794.6" y2="859.95" stroke="#000" stroke-width="1.7"/>
<line x1="798.8" y1="791.92" x2="794.6" y2="791.92" stroke="#000" stroke-width="1.7"/>
<line x1="798.8" y1="723.88" x2="794.6" y2="723.88" stroke="#000" stroke-width="1.7"/>
<line x1="798.8" y1="655.85" x2="794.6" y2="655.85" stroke="#000" stroke-width="1.7"/>
<line x1="798.8" y1="587.82" x2="794.6" y2="587.82" stroke="#000" stroke-width="1.7"/>
<line x1="798.8" y1="962" x2="791" y2="962" stroke="#000" stroke-width="1.7"/>
<text font-size="27.3" text-anchor="end" transform="translate(785 970.2) scale(1 1.06)">-60</text>
<line x1="798.8" y1="893.97" x2="791" y2="893.97" stroke="#000" stroke-width="1.7"/>
<text font-size="27.3" text-anchor="end" transform="translate(785 902.17) scale(1 1.06)">-40</text>
<line x1="798.8" y1="825.93" x2="791" y2="825.93" stroke="#000" stroke-width="1.7"/>
<text font-size="27.3" text-anchor="end" transform="translate(785 834.13) scale(1 1.06)">-20</text>
<line x1="798.8" y1="757.9" x2="791" y2="757.9" stroke="#000" stroke-width="1.7"/>
<text font-size="27.3" text-anchor="end" transform="translate(785 766.1) scale(1 1.06)">0</text>
<line x1="798.8" y1="689.87" x2="791" y2="689.87" stroke="#000" stroke-width="1.7"/>
<text font-size="27.3" text-anchor="end" transform="translate(785 698.07) scale(1 1.06)">20</text>
<line x1="798.8" y1="621.83" x2="791" y2="621.83" stroke="#000" stroke-width="1.7"/>
<text font-size="27.3" text-anchor="end" transform="translate(785 630.03) scale(1 1.06)">40</text>
<line x1="798.8" y1="553.8" x2="791" y2="553.8" stroke="#000" stroke-width="1.7"/>
<text font-size="27.3" text-anchor="end" transform="translate(785 562) scale(1 1.06)">60</text>
<text font-size="29" text-anchor="middle" transform="translate(721.8 757) rotate(-90) scale(1 1.07)"><tspan font-style='italic'>C</tspan> (pA)</text>
<text x="1052.6" y="1043.6" font-size="29.2" text-anchor="middle"><tspan font-style='italic'>Y</tspan> Position (<tspan font-family='"Liberation Serif", serif' font-size='108%'>μ</tspan>m)</text>
<g transform="translate(0 523)">
<rect x="832.7" y="44.1" width="146.1" height="83.1" fill="#dcdcdc" stroke="#000" stroke-width="2.2"/>
<rect x="889.8" y="42.3" width="31.9" height="21.7" fill="#f0c830" stroke="#000" stroke-width="2"/>
<rect x="889.8" y="107.8" width="31.9" height="21.7" fill="#f0c830" stroke="#000" stroke-width="2"/>
<rect x="855" y="54.2" width="100.8" height="61.5" fill="none" stroke="#000" stroke-width="2" stroke-dasharray="7.5 6.7"/>
<path d="M855 85.6H945" stroke="#808080" stroke-width="2.5" fill="none"/>
<path d="M955 85.6L943.4 79.8V91.4Z" fill="#808080"/>
<path d="M906.9 111.5V66" stroke="#000" stroke-width="3.2" fill="none"/>
<path d="M906.9 56.4L901.5 67.8H912.3Z" fill="#000"/>
<circle cx="906.9" cy="85.6" r="3.1" fill="#000"/>
<text x="875" y="71.8" font-size="17" font-style="italic">Y</text>
<text x="889.3" y="101.2" font-size="17.2">O</text>
<text x="960" y="93.4" font-size="17.4" font-style="italic" fill="#808080">X</text>
</g>
<text x="1371" y="27" font-size="32" font-weight="bold">d</text>
<polyline points="1531.36,74.08 1534.87,74.27 1538.39,74.7 1541.9,75.38 1545.41,76.29 1548.92,77.43 1552.43,78.78 1555.94,80.33 1559.45,82.09 1562.96,84.04 1566.47,86.18 1569.98,88.49 1573.49,90.97 1577,93.6 1580.51,96.39 1584.02,99.32 1587.53,102.38 1591.04,105.57 1594.56,108.88 1598.07,112.3 1601.58,115.83 1605.09,119.45 1608.6,123.15 1612.11,126.94 1615.62,130.8 1619.13,134.73 1622.64,138.72 1626.15,142.76 1629.66,146.85 1633.17,150.97 1636.68,155.13 1640.19,159.32 1643.7,163.53 1647.21,167.75 1650.73,171.98 1654.24,176.21 1657.75,180.45 1661.26,184.68 1664.77,188.89 1668.28,193.09 1671.79,197.27 1675.3,201.43 1678.81,205.56 1682.32,209.65 1685.83,213.71 1689.34,217.73 1692.85,221.71 1696.36,225.64 1699.87,229.52 1703.38,233.35 1706.89,237.13 1710.41,240.85 1713.92,244.52 1717.43,248.12 1720.94,251.67 1724.45,255.15 1727.96,258.57 1731.47,261.92 1734.98,265.22 1738.49,268.44 1742,271.6 1745.51,274.69 1749.02,277.72 1752.53,280.68 1756.04,283.57 1759.55,286.4 1763.06,289.17 1766.58,291.87 1770.09,294.5 1773.6,297.08 1777.11,299.59 1780.62,302.05 1784.13,304.45 1787.64,306.79 1791.15,309.07 1794.66,311.31 1798.17,313.49 1801.68,315.62 1805.19,317.7 1808.7,319.74 1812.21,321.73 1815.72,323.68 1819.23,325.6 1822.75,327.47 1826.26,329.31 1829.77,331.11 1833.28,332.89 1836.79,334.63 1840.3,336.34 1843.81,338.03 1847.32,339.7 1850.83,341.34 1854.34,342.96 1857.85,344.56 1861.36,346.15 1864.87,347.71 1868.38,349.26 1871.89,350.79 1875.4,352.31 1878.92,353.81 1882.43,355.3 1885.94,356.78 1889.45,358.24 1892.96,359.68 1896.47,361.11 1899.98,362.52 1903.49,363.91 1907,365.27 1910.51,366.62 1914.02,367.93 1917.53,369.22 1921.04,370.47 1924.55,371.69 1928.06,372.86 1931.57,373.99 1935.08,375.06 1938.6,376.07 1942.11,377.02 1945.62,377.9 1949.13,378.69" fill="none" stroke="#000" stroke-width="2.6" stroke-linejoin="round" stroke-linecap="round"/>
<path d="M1531.36 67.22V82.37M1524.76 67.22H1537.96M1524.76 82.37H1537.96" stroke="#000" stroke-width="1.6" fill="none"/>
<circle cx="1531.36" cy="74.79" r="5.5" fill="#000"/>
<path d="M1577.21 92.85V99.84M1570.61 92.85H1583.81M1570.61 99.84H1583.81" stroke="#000" stroke-width="1.6" fill="none"/>
<circle cx="1577.21" cy="96.34" r="5.5" fill="#000"/>
<path d="M1644.27 138.28V149.93M1637.67 138.28H1650.87M1637.67 149.93H1650.87" stroke="#000" stroke-width="1.6" fill="none"/>
<circle cx="1644.27" cy="144.1" r="5.5" fill="#000"/>
<path d="M1722.18 254.18V258.84M1715.58 254.18H1728.78M1715.58 258.84H1728.78" stroke="#000" stroke-width="1.6" fill="none"/>
<circle cx="1722.18" cy="256.51" r="5.5" fill="#000"/>
<path d="M1786.54 295.53V301.36M1779.94 295.53H1793.14M1779.94 301.36H1793.14" stroke="#000" stroke-width="1.6" fill="none"/>
<circle cx="1786.54" cy="298.45" r="5.5" fill="#000"/>
<path d="M1838.48 332.58V338.4M1831.88 332.58H1845.08M1831.88 338.4H1845.08" stroke="#000" stroke-width="1.6" fill="none"/>
<circle cx="1838.48" cy="335.49" r="5.5" fill="#000"/>
<path d="M1884.77 362.51V368.34M1878.17 362.51H1891.37M1878.17 368.34H1891.37" stroke="#000" stroke-width="1.6" fill="none"/>
<circle cx="1884.77" cy="365.43" r="5.5" fill="#000"/>
<path d="M1949.13 368.92V375.91M1942.53 368.92H1955.73M1942.53 375.91H1955.73" stroke="#000" stroke-width="1.6" fill="none"/>
<circle cx="1949.13" cy="372.42" r="5.5" fill="#000"/>
<rect x="1475.7" y="28.2" width="507.3" height="407.7" fill="none" stroke="#000" stroke-width="1.7"/>
<line x1="1587.82" y1="435.9" x2="1587.82" y2="440.1" stroke="#000" stroke-width="1.7"/>
<line x1="1700.73" y1="435.9" x2="1700.73" y2="440.1" stroke="#000" stroke-width="1.7"/>
<line x1="1813.64" y1="435.9" x2="1813.64" y2="440.1" stroke="#000" stroke-width="1.7"/>
<line x1="1926.55" y1="435.9" x2="1926.55" y2="440.1" stroke="#000" stroke-width="1.7"/>
<line x1="1474.91" y1="435.9" x2="1474.91" y2="440.1" stroke="#000" stroke-width="1.7"/>
<line x1="1531.36" y1="435.9" x2="1531.36" y2="443.7" stroke="#000" stroke-width="1.7"/>
<text font-size="27.3" text-anchor="middle" transform="translate(1531.36 471.1) scale(1 1.06)">5</text>
<line x1="1644.27" y1="435.9" x2="1644.27" y2="443.7" stroke="#000" stroke-width="1.7"/>
<text font-size="27.3" text-anchor="middle" transform="translate(1644.27 471.1) scale(1 1.06)">10</text>
<line x1="1757.18" y1="435.9" x2="1757.18" y2="443.7" stroke="#000" stroke-width="1.7"/>
<text font-size="27.3" text-anchor="middle" transform="translate(1757.18 471.1) scale(1 1.06)">15</text>
<line x1="1870.09" y1="435.9" x2="1870.09" y2="443.7" stroke="#000" stroke-width="1.7"/>
<text font-size="27.3" text-anchor="middle" transform="translate(1870.09 471.1) scale(1 1.06)">20</text>
<line x1="1983" y1="435.9" x2="1983" y2="443.7" stroke="#000" stroke-width="1.7"/>
<text font-size="27.3" text-anchor="middle" transform="translate(1983 471.1) scale(1 1.06)">25</text>
<line x1="1475.7" y1="406.78" x2="1471.5" y2="406.78" stroke="#000" stroke-width="1.7"/>
<line x1="1475.7" y1="348.54" x2="1471.5" y2="348.54" stroke="#000" stroke-width="1.7"/>
<line x1="1475.7" y1="290.29" x2="1471.5" y2="290.29" stroke="#000" stroke-width="1.7"/>
<line x1="1475.7" y1="232.05" x2="1471.5" y2="232.05" stroke="#000" stroke-width="1.7"/>
<line x1="1475.7" y1="173.81" x2="1471.5" y2="173.81" stroke="#000" stroke-width="1.7"/>
<line x1="1475.7" y1="115.56" x2="1471.5" y2="115.56" stroke="#000" stroke-width="1.7"/>
<line x1="1475.7" y1="57.32" x2="1471.5" y2="57.32" stroke="#000" stroke-width="1.7"/>
<line x1="1475.7" y1="435.9" x2="1467.9" y2="435.9" stroke="#000" stroke-width="1.7"/>
<text font-size="27.3" text-anchor="end" transform="translate(1461.9 444.1) scale(1 1.06)">-50</text>
<line x1="1475.7" y1="377.66" x2="1467.9" y2="377.66" stroke="#000" stroke-width="1.7"/>
<text font-size="27.3" text-anchor="end" transform="translate(1461.9 385.86) scale(1 1.06)">0</text>
<line x1="1475.7" y1="319.41" x2="1467.9" y2="319.41" stroke="#000" stroke-width="1.7"/>
<text font-size="27.3" text-anchor="end" transform="translate(1461.9 327.61) scale(1 1.06)">50</text>
<line x1="1475.7" y1="261.17" x2="1467.9" y2="261.17" stroke="#000" stroke-width="1.7"/>
<text font-size="27.3" text-anchor="end" transform="translate(1461.9 269.37) scale(1 1.06)">100</text>
<line x1="1475.7" y1="202.93" x2="1467.9" y2="202.93" stroke="#000" stroke-width="1.7"/>
<text font-size="27.3" text-anchor="end" transform="translate(1461.9 211.13) scale(1 1.06)">150</text>
<line x1="1475.7" y1="144.69" x2="1467.9" y2="144.69" stroke="#000" stroke-width="1.7"/>
<text font-size="27.3" text-anchor="end" transform="translate(1461.9 152.89) scale(1 1.06)">200</text>
<line x1="1475.7" y1="86.44" x2="1467.9" y2="86.44" stroke="#000" stroke-width="1.7"/>
<text font-size="27.3" text-anchor="end" transform="translate(1461.9 94.64) scale(1 1.06)">250</text>
<line x1="1475.7" y1="28.2" x2="1467.9" y2="28.2" stroke="#000" stroke-width="1.7"/>
<text font-size="27.3" text-anchor="end" transform="translate(1461.9 36.4) scale(1 1.06)">300</text>
<text font-size="29" text-anchor="middle" transform="translate(1406.5 231) rotate(-90) scale(1 1.07)"><tspan font-style='italic'>C</tspan> (pA)</text>
<text x="1730" y="517.4" font-size="29" text-anchor="middle"><tspan font-style='italic'>w</tspan> (<tspan font-family='"Liberation Serif", serif' font-size='108%'>μ</tspan>m)</text>
<text x="1392" y="550" font-size="32" font-weight="bold">e</text>
<path d="M1518.2 918.54L1518.97 895.27M1520.66 880.21L1538.52 787.71M1544.81 774.39L1588.88 721.07M1600.11 711.1L1634.15 689.16M1647.88 683.08L1717.86 664.38M1731.09 657.62L1740.9 649.62M1754.34 645.68L1774.54 647.98M1788.79 645.27L1816.87 630.3M1831.16 626.24L1847.73 625.19M1862.91 624.45L1891.75 623.46M1906.9 624.03L1933.27 626.9" fill="none" stroke="#000" stroke-width="2.6" stroke-linecap="round"/>
<path d="M1517.95 924.8V927.48M1511.35 924.8H1524.55M1511.35 927.48H1524.55" stroke="#000" stroke-width="1.6" fill="none"/>
<circle cx="1517.95" cy="926.14" r="5.5" fill="#000"/>
<path d="M1519.22 886V889.35M1512.62 886H1525.82M1512.62 889.35H1525.82" stroke="#000" stroke-width="1.6" fill="none"/>
<circle cx="1519.22" cy="887.67" r="5.5" fill="#000"/>
<path d="M1539.96 774.38V786.11M1533.36 774.38H1546.56M1533.36 786.11H1546.56" stroke="#000" stroke-width="1.6" fill="none"/>
<circle cx="1539.96" cy="780.24" r="5.5" fill="#000"/>
<path d="M1593.72 705.16V725.27M1587.12 705.16H1600.32M1587.12 725.27H1600.32" stroke="#000" stroke-width="1.6" fill="none"/>
<circle cx="1593.72" cy="715.21" r="5.5" fill="#000"/>
<path d="M1640.54 672.48V697.62M1633.94 672.48H1647.14M1633.94 697.62H1647.14" stroke="#000" stroke-width="1.6" fill="none"/>
<circle cx="1640.54" cy="685.05" r="5.5" fill="#000"/>
<path d="M1725.2 649.85V674.99M1718.6 649.85H1731.8M1718.6 674.99H1731.8" stroke="#000" stroke-width="1.6" fill="none"/>
<circle cx="1725.2" cy="662.42" r="5.5" fill="#000"/>
<path d="M1746.79 631.41V658.23M1740.19 631.41H1753.39M1740.19 658.23H1753.39" stroke="#000" stroke-width="1.6" fill="none"/>
<circle cx="1746.79" cy="644.82" r="5.5" fill="#000"/>
<path d="M1782.09 635.44V662.25M1775.49 635.44H1788.69M1775.49 662.25H1788.69" stroke="#000" stroke-width="1.6" fill="none"/>
<circle cx="1782.09" cy="648.84" r="5.5" fill="#000"/>
<path d="M1823.57 614.15V639.29M1816.97 614.15H1830.17M1816.97 639.29H1830.17" stroke="#000" stroke-width="1.6" fill="none"/>
<circle cx="1823.57" cy="626.72" r="5.5" fill="#000"/>
<path d="M1855.32 610.46V638.96M1848.72 610.46H1861.92M1848.72 638.96H1861.92" stroke="#000" stroke-width="1.6" fill="none"/>
<circle cx="1855.32" cy="624.71" r="5.5" fill="#000"/>
<path d="M1899.34 608.96V637.45M1892.74 608.96H1905.94M1892.74 637.45H1905.94" stroke="#000" stroke-width="1.6" fill="none"/>
<circle cx="1899.34" cy="623.2" r="5.5" fill="#000"/>
<path d="M1940.82 614.32V641.14M1934.22 614.32H1947.42M1934.22 641.14H1947.42" stroke="#000" stroke-width="1.6" fill="none"/>
<circle cx="1940.82" cy="627.73" r="5.5" fill="#000"/>
<rect x="1475.2" y="551" width="508.8" height="410" fill="none" stroke="#000" stroke-width="1.7"/>
<line x1="1475.62" y1="961" x2="1475.62" y2="965.2" stroke="#000" stroke-width="1.7"/>
<line x1="1560.28" y1="961" x2="1560.28" y2="965.2" stroke="#000" stroke-width="1.7"/>
<line x1="1644.94" y1="961" x2="1644.94" y2="965.2" stroke="#000" stroke-width="1.7"/>
<line x1="1729.6" y1="961" x2="1729.6" y2="965.2" stroke="#000" stroke-width="1.7"/>
<line x1="1814.26" y1="961" x2="1814.26" y2="965.2" stroke="#000" stroke-width="1.7"/>
<line x1="1898.92" y1="961" x2="1898.92" y2="965.2" stroke="#000" stroke-width="1.7"/>
<line x1="1983.58" y1="961" x2="1983.58" y2="965.2" stroke="#000" stroke-width="1.7"/>
<line x1="1517.95" y1="961" x2="1517.95" y2="968.8" stroke="#000" stroke-width="1.7"/>
<text font-size="27.3" text-anchor="middle" transform="translate(1517.95 996.2) scale(1 1.06)">0</text>
<line x1="1602.61" y1="961" x2="1602.61" y2="968.8" stroke="#000" stroke-width="1.7"/>
<text font-size="27.3" text-anchor="middle" transform="translate(1602.61 996.2) scale(1 1.06)">100</text>
<line x1="1687.27" y1="961" x2="1687.27" y2="968.8" stroke="#000" stroke-width="1.7"/>
<text font-size="27.3" text-anchor="middle" transform="translate(1687.27 996.2) scale(1 1.06)">200</text>
<line x1="1771.93" y1="961" x2="1771.93" y2="968.8" stroke="#000" stroke-width="1.7"/>
<text font-size="27.3" text-anchor="middle" transform="translate(1771.93 996.2) scale(1 1.06)">300</text>
<line x1="1856.59" y1="961" x2="1856.59" y2="968.8" stroke="#000" stroke-width="1.7"/>
<text font-size="27.3" text-anchor="middle" transform="translate(1856.59 996.2) scale(1 1.06)">400</text>
<line x1="1941.25" y1="961" x2="1941.25" y2="968.8" stroke="#000" stroke-width="1.7"/>
<text font-size="27.3" text-anchor="middle" transform="translate(1941.25 996.2) scale(1 1.06)">500</text>
<line x1="1475.2" y1="885.5" x2="1471" y2="885.5" stroke="#000" stroke-width="1.7"/>
<line x1="1475.2" y1="801.7" x2="1471" y2="801.7" stroke="#000" stroke-width="1.7"/>
<line x1="1475.2" y1="717.9" x2="1471" y2="717.9" stroke="#000" stroke-width="1.7"/>
<line x1="1475.2" y1="634.1" x2="1471" y2="634.1" stroke="#000" stroke-width="1.7"/>
<line x1="1475.2" y1="551.13" x2="1471" y2="551.13" stroke="#000" stroke-width="1.7"/>
<line x1="1475.2" y1="927.4" x2="1467.4" y2="927.4" stroke="#000" stroke-width="1.7"/>
<text font-size="27.3" text-anchor="end" transform="translate(1461.4 935.6) scale(1 1.06)">0</text>
<line x1="1475.2" y1="843.6" x2="1467.4" y2="843.6" stroke="#000" stroke-width="1.7"/>
<text font-size="27.3" text-anchor="end" transform="translate(1461.4 851.8) scale(1 1.06)">50</text>
<line x1="1475.2" y1="759.8" x2="1467.4" y2="759.8" stroke="#000" stroke-width="1.7"/>
<text font-size="27.3" text-anchor="end" transform="translate(1461.4 768) scale(1 1.06)">100</text>
<line x1="1475.2" y1="676" x2="1467.4" y2="676" stroke="#000" stroke-width="1.7"/>
<text font-size="27.3" text-anchor="end" transform="translate(1461.4 684.2) scale(1 1.06)">150</text>
<line x1="1475.2" y1="592.2" x2="1467.4" y2="592.2" stroke="#000" stroke-width="1.7"/>
<text font-size="27.3" text-anchor="end" transform="translate(1461.4 600.4) scale(1 1.06)">200</text>
<text font-size="29" text-anchor="middle" transform="translate(1406.5 757) rotate(-90) scale(1 1.07)"><tspan font-style='italic'>C</tspan> (pA)</text>
<text x="1729.8" y="1043" font-size="29" text-anchor="middle">Intensity (<tspan font-family='"Liberation Serif", serif' font-size='108%'>μ</tspan>W)</text>
</svg>
</body>
</html>
